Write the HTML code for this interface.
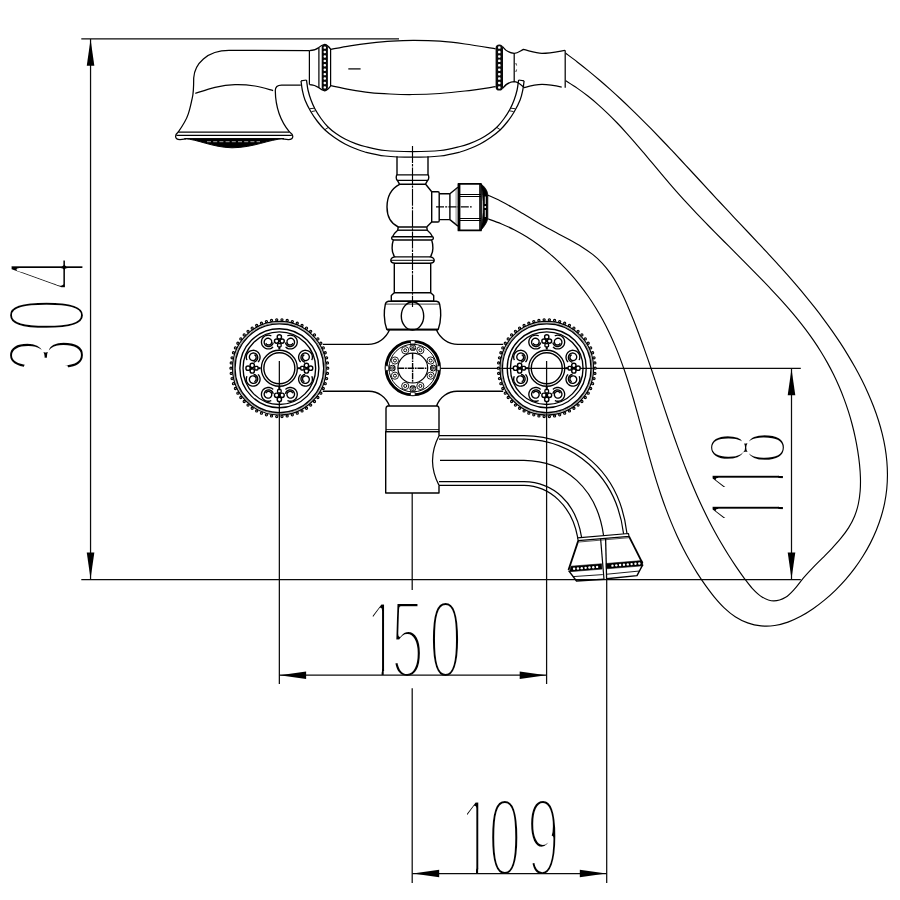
<!DOCTYPE html>
<html lang="en"><head><meta charset="utf-8">
<style>
html,body{margin:0;padding:0;background:#fff;width:900px;height:900px;overflow:hidden}
svg{display:block}
text{font-family:"Liberation Sans",sans-serif}
</style></head><body>
<svg width="900" height="900" viewBox="0 0 900 900">
<rect width="900" height="900" fill="#fff"/>
<g fill="none" stroke="#000" stroke-width="1.4" stroke-linecap="butt" stroke-linejoin="round">
<text transform="translate(365.4,678) scale(0.53,1)" x="0 48.3 120" y="0" font-size="112" fill="#000" stroke="#fff" stroke-width="6.1" stroke-linejoin="round">150</text>
<rect x="369.4" y="671" width="12.2" height="4.4" fill="#fff" stroke="none"/>
<rect x="383.7" y="671" width="12" height="4.4" fill="#fff" stroke="none"/>
<text transform="translate(459.8,876.3) scale(0.53,1)" x="0 53.58 126.51" y="0" font-size="112" fill="#000" stroke="#fff" stroke-width="6.1" stroke-linejoin="round">109</text>
<rect x="463.8" y="869.3" width="12.2" height="4.4" fill="#fff" stroke="none"/>
<rect x="478.1" y="869.3" width="12" height="4.4" fill="#fff" stroke="none"/>
<text transform="translate(84.6,371.5) rotate(-90) scale(0.53,1)" x="0 74.91 153.4" y="0" font-size="112" fill="#000" stroke="#fff" stroke-width="6.1" stroke-linejoin="round">304</text>
<text transform="translate(785.8,525.3) rotate(-90) scale(0.53,1)" x="0 58.49 115.85" y="0" font-size="112" fill="#000" stroke="#fff" stroke-width="6.1" stroke-linejoin="round">118</text>
<rect x="778.8" y="509.1" width="4.4" height="12.2" fill="#fff" stroke="none"/>
<rect x="778.8" y="495" width="4.4" height="12" fill="#fff" stroke="none"/>
<rect x="778.8" y="478.1" width="4.4" height="12.2" fill="#fff" stroke="none"/>
<rect x="778.8" y="464" width="4.4" height="12" fill="#fff" stroke="none"/>
<g stroke-width="1.25" stroke="#0a0a0a">
<line x1="81.3" y1="38.9" x2="399" y2="38.9"/>
<line x1="90.55" y1="39" x2="90.55" y2="579"/>
<path d="M90.55 39.3 L94.35 65.8 L86.75 65.8 Z" fill="#000" stroke="none"/>
<path d="M90.55 579.1 L86.75 552.6 L94.35 552.6 Z" fill="#000" stroke="none"/>
<line x1="81.3" y1="579.5" x2="800.8" y2="579.5"/>
<line x1="279.35" y1="361" x2="279.35" y2="684"/>
<line x1="546.6" y1="361" x2="546.6" y2="684"/>
<line x1="279" y1="675.2" x2="546.7" y2="675.2"/>
<path d="M279.6 675.2 L306.1 671.4 L306.1 679 Z" fill="#000" stroke="none"/>
<path d="M546.2 675.2 L519.7 679 L519.7 671.4 Z" fill="#000" stroke="none"/>
<line x1="412.2" y1="493" x2="412.2" y2="590"/>
<line x1="412.2" y1="688.3" x2="412.2" y2="883"/>
<line x1="606.7" y1="579" x2="606.7" y2="883"/>
<line x1="412.3" y1="873.5" x2="606.7" y2="873.5"/>
<path d="M412.7 873.5 L439.2 869.7 L439.2 877.3 Z" fill="#000" stroke="none"/>
<path d="M606.3 873.5 L579.8 877.3 L579.8 869.7 Z" fill="#000" stroke="none"/>
<line x1="438.5" y1="368.3" x2="800.8" y2="368.3"/>
<line x1="791.5" y1="368.5" x2="791.5" y2="579"/>
<path d="M791.5 368.7 L795.3 395.2 L787.7 395.2 Z" fill="#000" stroke="none"/>
<path d="M791.5 579.1 L787.7 552.6 L795.3 552.6 Z" fill="#000" stroke="none"/>
</g>
<g stroke-width="1.25">
<path d="M309.4 50.6 L229 50.4 C207 50.4 194.5 64 193.7 78 C193.7 88 193.4 94 192.2 98.3 C191 104 190 109 188.3 113.9 C186 121 182.5 126 178.2 132.1"/>
<path d="M300.8 85 L281.5 85 C277 85 275.3 87 275.3 90.5 C275.5 106 279.5 120 289.6 132.1"/>
<path d="M195.3 93.4 C198.58 92.38 208.38 88.77 215 87.3 C221.62 85.83 228.33 84.82 235 84.6 C241.67 84.38 248.65 85 255 86 C261.35 87 270.08 89.83 273.1 90.6"/>
<path d="M178.2 132.1 L289.6 132.1"/>
<path d="M176.4 135.3 L291.8 135.3"/>
<path d="M178.2 132.1 C176.5 133.5 175.6 134.5 175.6 136.3 C175.6 138.6 177 139.6 180 139.6 L186 138.9 M289.6 132.1 C291.6 133.5 292.8 134.5 292.8 136.3 C292.8 138.6 291.4 139.6 288.4 139.6 L282.4 138.9"/>
<path d="M184.5 138.6 C198 139.5 212 147.2 232 147.8 C254 147.6 268 139.6 284 138.6 Z" stroke-width="1" fill="#000"/>
<line x1="207" y1="141.7" x2="260" y2="141.7" stroke-width="0.9" stroke="#bbb" stroke-dasharray="4 2.2"/>
<line x1="309.4" y1="50.6" x2="309.4" y2="84.6"/>
<path d="M309.4 50.6 C313.5 50.5 316 49.6 318.9 47.4 C320.5 46 322 45 324.8 44.4 C327.5 45 329 46.8 330.6 49.2"/>
<path d="M309.4 84.6 C313.5 84.7 316 85.6 318.9 87.8 C320.5 89.2 322 90.2 324.8 90.8 C327.5 90.2 329 88.4 330.6 86"/>
<line x1="318.9" y1="47.4" x2="318.9" y2="87.8"/>
<line x1="330.6" y1="48.9" x2="330.6" y2="86.1"/>
<rect x="321.7" y="44.4" width="6.2" height="46.2" rx="3.1" fill="#0a0a0a" stroke="none"/>
<rect x="323.6" y="46.41" width="2.4" height="2.4" rx="0.9" fill="#fff" stroke="none"/>
<rect x="323.6" y="50.83" width="2.4" height="2.4" rx="0.9" fill="#fff" stroke="none"/>
<rect x="323.6" y="55.25" width="2.4" height="2.4" rx="0.9" fill="#fff" stroke="none"/>
<rect x="323.6" y="59.67" width="2.4" height="2.4" rx="0.9" fill="#fff" stroke="none"/>
<rect x="323.6" y="64.09" width="2.4" height="2.4" rx="0.9" fill="#fff" stroke="none"/>
<rect x="323.6" y="68.51" width="2.4" height="2.4" rx="0.9" fill="#fff" stroke="none"/>
<rect x="323.6" y="72.93" width="2.4" height="2.4" rx="0.9" fill="#fff" stroke="none"/>
<rect x="323.6" y="77.35" width="2.4" height="2.4" rx="0.9" fill="#fff" stroke="none"/>
<rect x="323.6" y="81.77" width="2.4" height="2.4" rx="0.9" fill="#fff" stroke="none"/>
<rect x="323.6" y="86.19" width="2.4" height="2.4" rx="0.9" fill="#fff" stroke="none"/>
<path d="M330.6 49.4 C333.83 48.8 343.43 46.85 350 45.8 C356.57 44.75 363 43.88 370 43.1 C377 42.32 384.67 41.55 392 41.1 C399.33 40.65 406 40.38 414 40.4 C422 40.42 431.5 40.6 440 41.2 C448.5 41.8 455.73 42.72 465 44 C474.27 45.28 490.5 48.08 495.6 48.9"/>
<path d="M330.6 85.6 C333.83 86.27 343.43 88.43 350 89.6 C356.57 90.77 363.33 91.87 370 92.6 C376.67 93.33 383 93.68 390 94 C397 94.32 403.67 94.58 412 94.5 C420.33 94.42 431.17 94.08 440 93.5 C448.83 92.92 455.73 92.13 465 91 C474.27 89.87 490.5 87.42 495.6 86.7"/>
<line x1="348.3" y1="68.9" x2="360.6" y2="68.9"/>
<rect x="495.6" y="44.4" width="7.4" height="46.2" rx="3.7" fill="#0a0a0a" stroke="none"/>
<rect x="498.05" y="46.36" width="2.5" height="2.5" rx="0.9" fill="#fff" stroke="none"/>
<rect x="498.05" y="50.78" width="2.5" height="2.5" rx="0.9" fill="#fff" stroke="none"/>
<rect x="498.05" y="55.2" width="2.5" height="2.5" rx="0.9" fill="#fff" stroke="none"/>
<rect x="498.05" y="59.62" width="2.5" height="2.5" rx="0.9" fill="#fff" stroke="none"/>
<rect x="498.05" y="64.04" width="2.5" height="2.5" rx="0.9" fill="#fff" stroke="none"/>
<rect x="498.05" y="68.46" width="2.5" height="2.5" rx="0.9" fill="#fff" stroke="none"/>
<rect x="498.05" y="72.88" width="2.5" height="2.5" rx="0.9" fill="#fff" stroke="none"/>
<rect x="498.05" y="77.3" width="2.5" height="2.5" rx="0.9" fill="#fff" stroke="none"/>
<rect x="498.05" y="81.72" width="2.5" height="2.5" rx="0.9" fill="#fff" stroke="none"/>
<rect x="498.05" y="86.14" width="2.5" height="2.5" rx="0.9" fill="#fff" stroke="none"/>
<path d="M502.5 46.5 C505 50 508 53 514.2 53.3 C518 53.3 520 51 523.3 49.4 C530 51 536 53.3 542 53.3 C550 53.3 558 51.5 565 50.3"/>
<path d="M502.5 88.5 C505 85 508 82 514.2 81.7 C518 81.7 521 85 524.4 87.6 C530 86 536 84.4 542 84.4 C550 84.4 556 85.8 561.7 87.2"/>
<line x1="514.2" y1="53.3" x2="514.2" y2="81.7"/>
<line x1="565.2" y1="50.3" x2="565.2" y2="87.8"/>
<path d="M515.8 63 L516.6 65.5 M515.8 72 L516.6 69.5" stroke-width="0.8"/>
<path d="M301 80.8 C301.22 82.33 301.63 86.8 302.3 90 C302.97 93.2 303.55 96.33 305 100 C306.45 103.67 308.92 108.42 311 112 C313.08 115.58 315.17 118.5 317.5 121.5 C319.83 124.5 322.17 127.33 325 130 C327.83 132.67 331.17 135.17 334.5 137.5 C337.83 139.83 341.58 142.17 345 144 C348.42 145.83 351.67 147.17 355 148.5 C358.33 149.83 360 150.75 365 152 C370 153.25 377.08 155.13 385 156 C392.92 156.87 403.32 157.2 412.5 157.2 C421.68 157.2 432.17 156.87 440.1 156 C448.03 155.13 455.1 153.25 460.1 152 C465.1 150.75 466.77 149.83 470.1 148.5 C473.43 147.17 476.68 145.83 480.1 144 C483.52 142.17 487.27 139.83 490.6 137.5 C493.93 135.17 497.27 132.67 500.1 130 C502.93 127.33 505.27 124.5 507.6 121.5 C509.93 118.5 512.02 115.58 514.1 112 C516.18 108.42 518.65 103.67 520.1 100 C521.55 96.33 522.13 93.2 522.8 90 C523.47 86.8 523.88 82.33 524.1 80.8"/>
<path d="M306.5 80 C306.75 81.67 307.25 86.67 308 90 C308.75 93.33 309.83 96.83 311 100 C312.17 103.17 313.33 105.92 315 109 C316.67 112.08 318.83 115.5 321 118.5 C323.17 121.5 325.5 124.5 328 127 C330.5 129.5 333.17 131.5 336 133.5 C338.83 135.5 341.83 137.37 345 139 C348.17 140.63 351.67 142.05 355 143.3 C358.33 144.55 360 145.3 365 146.5 C370 147.7 377.08 149.67 385 150.5 C392.92 151.33 403.32 151.5 412.5 151.5 C421.68 151.5 432.17 151.33 440.1 150.5 C448.03 149.67 455.1 147.7 460.1 146.5 C465.1 145.3 466.77 144.55 470.1 143.3 C473.43 142.05 476.93 140.63 480.1 139 C483.27 137.37 486.27 135.5 489.1 133.5 C491.93 131.5 494.6 129.5 497.1 127 C499.6 124.5 501.93 121.5 504.1 118.5 C506.27 115.5 508.43 112.08 510.1 109 C511.77 105.92 512.93 103.17 514.1 100 C515.27 96.83 516.35 93.33 517.1 90 C517.85 86.67 518.35 81.67 518.6 80"/>
<path d="M301 80.8 L306.5 80 M518.6 80 L524.1 80.8"/>
<line x1="310" y1="108.7" x2="314.5" y2="108.2" stroke-width="0.9"/>
<line x1="515.1" y1="108.7" x2="510.6" y2="108.2" stroke-width="0.9"/>
<line x1="311.5" y1="111.6" x2="315.5" y2="110.8" stroke-width="0.9"/>
<line x1="513.6" y1="111.6" x2="509.6" y2="110.8" stroke-width="0.9"/>
<line x1="325" y1="129.6" x2="328.4" y2="127.4" stroke-width="0.9"/>
<line x1="500.1" y1="129.6" x2="496.7" y2="127.4" stroke-width="0.9"/>
</g>
<line x1="397" y1="156.3" x2="397" y2="174.9"/>
<line x1="428" y1="156.3" x2="428" y2="174.9"/>
<path d="M397 174.9 C396 175.5 395.8 179.3 397.4 180.4 L427.6 180.4 C429.2 179.3 429 175.5 428 174.9 Z"/>
<path d="M397.4 180.4 L399.6 184.3 L425.4 184.3 L427.6 180.4"/>
<path d="M399.6 184.3 C391.5 188.5 387 197 387 207 C387 216 391 223.5 398.3 227 L426.7 227"/>
<path d="M425.4 184.3 L426.3 185 L431.7 191.8"/>
<path d="M431.7 222 L426.7 227"/>
<path d="M431.7 191.8 L438 191.8 C438.8 191.8 439.2 192.3 439.2 193 L439.2 220.8 C439.2 221.5 438.8 222 438 222 L431.7 222 Z"/>
<path d="M439.2 193.8 L449.9 193.8 M439.2 219.6 L449.9 219.6 M449.9 193.8 L449.9 219.6"/>
<path d="M449.9 193.8 L457.9 187.3 M449.9 219.6 L457.9 226.1"/>
<line x1="456.1" y1="188.8" x2="456.1" y2="224.6" stroke-width="0.7" stroke="#555"/>
<path d="M458.4 183.8 L481 183.8 L481 230.4 L458.4 230.4 Z" stroke-width="1.7"/>
<line x1="459.6" y1="183.8" x2="459.6" y2="230.4" stroke-width="1.6"/>
<line x1="479.6" y1="184" x2="479.6" y2="230" stroke-width="0.9"/>
<line x1="458.4" y1="194.5" x2="481" y2="194.5" stroke-width="1"/>
<line x1="458.4" y1="196.5" x2="481" y2="196.5" stroke-width="1"/>
<line x1="458.4" y1="218.5" x2="481" y2="218.5" stroke-width="1"/>
<line x1="458.4" y1="220.5" x2="481" y2="220.5" stroke-width="1"/>
<path d="M481 184 C484.5 186.5 487.3 190 487.8 194.5 L487.8 218 C487.3 222.5 484.5 226 481 230.2 C482.6 222 483.2 214 483.2 207 C483.2 200 482.6 192 481 184 Z" stroke-width="0.8" fill="#000"/>
<path d="M485.3 196.5 L485.3 204 M485.3 210 L485.3 217" stroke-width="0.9" stroke="#fff"/>
<circle cx="485.3" cy="207" r="0.9" fill="#fff" stroke="none"/>
<line x1="436" y1="206.9" x2="471.7" y2="206.9" stroke-width="1.1" stroke-dasharray="8 1.2 2 1.2"/>
<line x1="398" y1="230.2" x2="427" y2="230.2"/>
<path d="M398.3 227 L397.7 230.2 C395.5 232 393.5 234.5 392.5 236.7 C391.3 237.3 391.3 239.4 393.3 240 C392.3 243 392.1 246 392.1 248.3 C392.1 251 393 254.5 394.7 256.9 C391.8 257.5 390.8 258.6 390.8 260.3 C390.8 262 392 263 394.3 263.3 L394.3 292.7 L391.3 295.5 L391.3 301.3"/>
<path d="M 426.7 227 L 427.3 230.2 C 429.5 232 431.5 234.5 432.5 236.7 C 433.7 237.3 433.7 239.4 431.7 240 C 432.7 243 432.9 246 432.9 248.3 C 432.9 251 432 254.5 430.3 256.9 C 433.2 257.5 434.2 258.6 434.2 260.3 C 434.2 262 433 263 430.7 263.3 L 430.7 292.7 L 433.7 295.5 L 433.7 301.3"/>
<line x1="392.5" y1="236.7" x2="432.5" y2="236.7"/>
<line x1="393.3" y1="240" x2="431.7" y2="240"/>
<line x1="394.7" y1="256.9" x2="430.3" y2="256.9"/>
<line x1="391" y1="260.3" x2="434" y2="260.3" stroke-width="1"/>
<line x1="394.3" y1="263.3" x2="430.7" y2="263.3"/>
<line x1="394.3" y1="292.8" x2="430.7" y2="292.8" stroke-width="1.6"/>
<line x1="391.3" y1="301.3" x2="433.7" y2="301.3"/>
<line x1="412.5" y1="146" x2="412.5" y2="307" stroke-width="1.15" stroke-dasharray="17 1 2.4 1"/>
<path d="M388.5 301.3 C386.5 301.6 385.6 302.8 385.3 304.3 C384.5 308 384.2 312 384.3 315.5 C384.4 320 385.2 325 386.8 329.5 L438.2 329.5 C439.8 325 440.6 320 440.7 315.5 C440.8 312 440.5 308 439.7 304.3 C439.4 302.8 438.5 301.6 436.5 301.3 Z"/>
<line x1="385.6" y1="304.1" x2="439.4" y2="304.1" stroke-width="0.8"/>
<line x1="387" y1="329.6" x2="438" y2="329.6" stroke-width="1.7"/>
<ellipse cx="412.5" cy="316" rx="11.2" ry="14"/>
<path d="M389.4 330 C386 338 378 344.4 368 344.4 L322.8 344.4"/>
<path d="M436.5 330 C440 338 448 344.4 458 344.4 L503.2 344.4"/>
<path d="M322.8 391.3 L369 391.3 C378 391.3 386 397 389.5 406"/>
<path d="M503.2 391.3 L457 391.3 C448 391.3 440 397 436.5 406"/>
<path d="M387.5 406 L437.5 406 C438.5 406.5 439 407.5 439 408.5 L439 431.6 L386 431.6 L386 408.5 C386 407.5 386.5 406.5 387.5 406 Z"/>
<line x1="386" y1="429.6" x2="439" y2="429.6" stroke-width="0.9"/>
<path d="M439 435.7 L439 431.6 L385.7 431.6 L385.7 493 L439 493 L439 485.4"/>
<path d="M439 435.7 L524 435.7 C575 436.5 619.5 470 627 533.6" stroke-width="1.2"/>
<path d="M439 439.1 L524 439.1 C572 439.8 616.2 474 623.6 533.9" stroke-width="1.2"/>
<path d="M440 460.4 L524 460.4 C565 461 597 488 603.6 535.6" stroke-width="1.2"/>
<path d="M439 481.7 L524 481.7 C553 482.3 576 502 581.6 537.4" stroke-width="1.2"/>
<path d="M439 485.4 L524 485.4 C550 485.8 572 506 577.8 537.8" stroke-width="1.2"/>
<path d="M439 435.7 C430.5 452 430.5 469 439 485.4" stroke-width="1.2"/>
<path d="M577.5 537.8 L628.5 533.5 L629 536.3 L578.3 540.6 Z" stroke-width="1.2"/>
<line x1="579" y1="542" x2="628.9" y2="537.7" stroke-width="0.7"/>
<line x1="578.3" y1="540.6" x2="568.5" y2="570" stroke-width="1.8"/>
<line x1="629" y1="536.3" x2="642.6" y2="563.4" stroke-width="1.8"/>
<path d="M571 566.2 L601.6 563.8 L602 569.1 L569.6 571.7 Z M606.2 563.5 L642 560.6 L642.9 565.8 L606.4 568.8 Z" stroke-width="0.6" fill="#000"/>
<circle cx="574.12" cy="568.79" r="1.2" fill="#fff" stroke="none"/>
<circle cx="577.95" cy="568.48" r="1.2" fill="#fff" stroke="none"/>
<circle cx="581.78" cy="568.17" r="1.2" fill="#fff" stroke="none"/>
<circle cx="585.62" cy="567.85" r="1.2" fill="#fff" stroke="none"/>
<circle cx="589.45" cy="567.54" r="1.2" fill="#fff" stroke="none"/>
<circle cx="593.28" cy="567.22" r="1.2" fill="#fff" stroke="none"/>
<circle cx="597.12" cy="566.91" r="1.2" fill="#fff" stroke="none"/>
<circle cx="612.45" cy="565.65" r="1.2" fill="#fff" stroke="none"/>
<circle cx="616.28" cy="565.34" r="1.2" fill="#fff" stroke="none"/>
<circle cx="620.12" cy="565.03" r="1.2" fill="#fff" stroke="none"/>
<circle cx="623.95" cy="564.71" r="1.2" fill="#fff" stroke="none"/>
<circle cx="627.78" cy="564.4" r="1.2" fill="#fff" stroke="none"/>
<circle cx="631.62" cy="564.08" r="1.2" fill="#fff" stroke="none"/>
<circle cx="635.45" cy="563.77" r="1.2" fill="#fff" stroke="none"/>
<circle cx="639.28" cy="563.46" r="1.2" fill="#fff" stroke="none"/>
<path d="M568.6 570.6 L576.5 581 L604 579.2 M606.7 578.7 L637 575.6 L642.8 564.6"/>
<path d="M573 576.6 L602.8 574.6 M607 574.2 L639.6 571" stroke-width="0.9"/>
<path d="M600.6 538.6 L604 579.2" stroke-width="1.2"/>
<path d="M605.6 538.3 L606.6 579" stroke-width="1.3"/>
<path d="M487.5 218.7 C489.77 219.53 496.68 221.86 501.12 223.7 C505.56 225.55 509.91 227.58 514.15 229.76 C518.39 231.95 522.54 234.31 526.58 236.81 C530.62 239.32 534.56 241.99 538.4 244.78 C542.23 247.58 545.96 250.53 549.59 253.59 C553.21 256.66 556.73 259.86 560.13 263.17 C563.54 266.48 566.84 269.91 570.03 273.44 C573.22 276.97 576.3 280.62 579.26 284.34 C582.22 288.06 585.07 291.89 587.81 295.79 C590.54 299.68 593.16 303.67 595.66 307.71 C598.16 311.75 600.55 315.87 602.81 320.04 C605.08 324.2 607.22 328.43 609.26 332.7 C611.3 336.96 613.21 341.29 615.05 345.64 C616.89 350 618.63 354.4 620.3 358.84 C621.97 363.27 623.54 367.75 625.07 372.24 C626.6 376.74 628.05 381.27 629.46 385.82 C630.88 390.37 632.23 394.94 633.56 399.53 C634.89 404.11 636.17 408.72 637.45 413.33 C638.73 417.94 639.97 422.57 641.22 427.19 C642.47 431.81 643.71 436.44 644.96 441.06 C646.22 445.68 647.47 450.3 648.75 454.91 C650.04 459.52 651.34 464.12 652.69 468.7 C654.04 473.28 655.42 477.85 656.85 482.39 C658.29 486.93 659.76 491.46 661.31 495.95 C662.85 500.45 664.44 504.93 666.11 509.37 C667.78 513.81 669.5 518.23 671.32 522.61 C673.13 526.99 675.01 531.35 676.99 535.66 C678.97 539.97 681.03 544.25 683.19 548.49 C685.35 552.72 687.6 556.92 689.97 561.07 C692.33 565.22 694.8 569.33 697.38 573.39 C699.97 577.44 702.67 581.46 705.5 585.41 C708.33 589.36 711.26 593.35 714.38 597.08 C717.5 600.81 720.73 604.54 724.2 607.81 C727.67 611.08 731.31 614.19 735.21 616.7 C739.12 619.21 743.31 621.35 747.63 622.87 C751.94 624.4 756.57 625.41 761.08 625.85 C765.59 626.29 770.21 626.14 774.7 625.52 C779.18 624.9 783.62 623.67 787.97 622.14 C792.32 620.61 796.61 618.56 800.79 616.33 C804.97 614.09 809.08 611.46 813.07 608.72 C817.05 605.98 820.95 603 824.71 599.89 C828.47 596.79 832.12 593.5 835.62 590.08 C839.13 586.66 842.51 583.08 845.73 579.39 C848.95 575.69 852.04 571.86 854.95 567.92 C857.85 563.99 860.61 559.93 863.18 555.8 C865.75 551.66 868.16 547.42 870.36 543.12 C872.56 538.81 874.58 534.42 876.39 529.99 C878.19 525.56 879.81 521.05 881.19 516.52 C882.56 511.99 883.74 507.41 884.66 502.82 C885.59 498.24 886.28 493.62 886.75 489.01 C887.21 484.39 887.42 479.76 887.44 475.14 C887.46 470.51 887.24 465.88 886.84 461.26 C886.45 456.64 885.83 452.02 885.06 447.42 C884.28 442.81 883.3 438.22 882.18 433.65 C881.06 429.08 879.75 424.52 878.32 419.99 C876.89 415.46 875.29 410.96 873.57 406.49 C871.86 402.02 870 397.58 868.05 393.18 C866.09 388.79 864 384.42 861.84 380.11 C859.67 375.8 857.39 371.53 855.05 367.31 C852.7 363.1 850.27 358.94 847.78 354.83 C845.29 350.73 842.73 346.68 840.11 342.69 C837.49 338.69 834.81 334.75 832.08 330.85 C829.35 326.95 826.55 323.1 823.72 319.29 C820.88 315.47 817.99 311.71 815.06 307.97 C812.14 304.24 809.16 300.54 806.15 296.88 C803.14 293.21 800.09 289.58 797.01 285.97 C793.92 282.36 790.81 278.79 787.67 275.23 C784.53 271.67 781.36 268.13 778.17 264.61 C774.98 261.09 771.77 257.59 768.54 254.1 C765.32 250.6 762.07 247.13 758.82 243.65 C755.57 240.18 752.31 236.72 749.04 233.25 C745.78 229.79 742.51 226.33 739.24 222.86 C735.97 219.4 732.7 215.93 729.44 212.46 C726.18 208.98 722.93 205.5 719.68 202.01 C716.43 198.52 713.2 195.02 709.96 191.51 C706.72 188.01 703.49 184.5 700.26 181 C697.02 177.5 693.79 173.99 690.55 170.49 C687.31 166.99 684.07 163.5 680.82 160.01 C677.57 156.53 674.31 153.05 671.04 149.58 C667.77 146.12 664.49 142.66 661.19 139.23 C657.89 135.79 654.58 132.37 651.25 128.97 C647.91 125.57 644.57 122.19 641.19 118.84 C637.82 115.48 634.43 112.15 631 108.85 C627.58 105.55 624.13 102.27 620.66 99.03 C617.18 95.79 613.67 92.58 610.13 89.4 C606.59 86.23 603.02 83.09 599.4 79.99 C595.79 76.9 592.14 73.84 588.45 70.82 C584.76 67.81 581.04 64.84 577.26 61.92 C573.48 59 567.71 54.74 565.8 53.3" stroke-width="1.15"/>
<path d="M487.5 195 C489.59 195.96 496.02 198.77 500.05 200.77 C504.07 202.78 507.88 204.89 511.67 207.02 C515.46 209.16 519.09 211.37 522.79 213.57 C526.48 215.77 530.09 218.02 533.83 220.23 C537.57 222.44 541.33 224.65 545.23 226.82 C549.14 228.98 553.21 231.08 557.26 233.22 C561.32 235.37 565.5 237.48 569.55 239.72 C573.59 241.95 577.68 244.21 581.53 246.65 C585.38 249.1 589.17 251.63 592.64 254.4 C596.11 257.18 599.36 260.14 602.34 263.31 C605.31 266.49 607.98 269.9 610.49 273.44 C613 276.97 615.25 280.71 617.39 284.52 C619.54 288.33 621.48 292.3 623.37 296.29 C625.26 300.28 627 304.38 628.74 308.47 C630.47 312.56 632.13 316.69 633.77 320.82 C635.41 324.95 637 329.11 638.57 333.27 C640.14 337.43 641.67 341.61 643.18 345.8 C644.69 349.99 646.17 354.19 647.63 358.4 C649.1 362.61 650.54 366.83 651.97 371.05 C653.4 375.27 654.81 379.49 656.22 383.72 C657.64 387.95 659.03 392.18 660.44 396.41 C661.84 400.64 663.24 404.87 664.65 409.09 C666.06 413.31 667.47 417.53 668.9 421.74 C670.33 425.96 671.77 430.16 673.23 434.36 C674.69 438.55 676.16 442.74 677.66 446.91 C679.17 451.09 680.69 455.25 682.25 459.39 C683.81 463.54 685.4 467.67 687.03 471.78 C688.66 475.88 690.33 479.98 692.04 484.05 C693.75 488.12 695.5 492.17 697.3 496.21 C699.1 500.24 700.94 504.25 702.84 508.24 C704.74 512.23 706.69 516.2 708.7 520.15 C710.71 524.1 712.78 528.02 714.91 531.92 C717.04 535.82 719.23 539.7 721.49 543.55 C723.75 547.4 726.07 551.23 728.47 555.04 C730.87 558.84 733.34 562.62 735.88 566.37 C738.43 570.12 741.04 573.88 743.76 577.54 C746.49 581.19 749.19 585.07 752.23 588.3 C755.26 591.53 758.41 594.82 761.99 596.93 C765.57 599.03 769.78 600.87 773.72 600.93 C777.67 600.98 782.07 599.36 785.64 597.26 C789.22 595.17 792.19 591.58 795.16 588.37 C798.13 585.15 800.55 581.37 803.47 577.97 C806.39 574.56 809.53 571.24 812.69 567.93 C815.84 564.62 819.17 561.39 822.39 558.12 C825.61 554.85 828.91 551.62 832 548.3 C835.1 544.98 838.18 541.66 840.95 538.21 C843.73 534.76 846.4 531.27 848.67 527.61 C850.94 523.95 852.96 520.18 854.57 516.24 C856.18 512.31 857.39 508.19 858.32 504 C859.25 499.8 859.8 495.45 860.16 491.06 C860.51 486.67 860.55 482.17 860.44 477.68 C860.33 473.19 859.96 468.63 859.5 464.12 C859.04 459.6 858.4 455.07 857.69 450.61 C856.98 446.14 856.15 441.7 855.22 437.31 C854.29 432.91 853.25 428.56 852.11 424.25 C850.98 419.93 849.73 415.66 848.39 411.43 C847.05 407.21 845.6 403.02 844.05 398.88 C842.5 394.74 840.86 390.65 839.11 386.6 C837.36 382.55 835.52 378.55 833.58 374.6 C831.64 370.65 829.6 366.75 827.46 362.9 C825.33 359.04 823.1 355.24 820.77 351.5 C818.45 347.75 816.03 344.06 813.52 340.41 C811.02 336.77 808.42 333.18 805.75 329.64 C803.08 326.09 800.33 322.6 797.53 319.14 C794.73 315.69 791.85 312.27 788.93 308.9 C786.02 305.52 783.04 302.18 780.03 298.87 C777.03 295.56 773.98 292.28 770.91 289.03 C767.85 285.77 764.74 282.55 761.64 279.34 C758.53 276.14 755.41 272.96 752.29 269.79 C749.16 266.62 746.03 263.47 742.9 260.32 C739.77 257.18 736.63 254.05 733.5 250.91 C730.37 247.78 727.24 244.66 724.12 241.52 C721 238.39 717.88 235.26 714.78 232.12 C711.68 228.98 708.58 225.83 705.51 222.66 C702.43 219.5 699.37 216.32 696.33 213.12 C693.28 209.92 690.26 206.7 687.26 203.45 C684.26 200.2 681.29 196.93 678.34 193.63 C675.39 190.32 672.48 186.97 669.58 183.61 C666.68 180.24 663.82 176.84 660.95 173.43 C658.09 170.03 655.24 166.6 652.39 163.18 C649.53 159.76 646.68 156.34 643.8 152.93 C640.92 149.53 638.05 146.13 635.13 142.77 C632.21 139.41 629.28 136.07 626.29 132.77 C623.31 129.48 620.3 126.22 617.22 123.02 C614.15 119.83 611.04 116.68 607.85 113.6 C604.66 110.53 601.42 107.51 598.09 104.59 C594.76 101.66 591.37 98.81 587.88 96.06 C584.39 93.32 580.82 90.65 577.14 88.11 C573.46 85.56 567.69 82.02 565.8 80.8" stroke-width="1.15"/>
<circle cx="327.75" cy="368.2" r="1.1" stroke-width="1.1" fill="#aaa"/>
<circle cx="327.47" cy="373.43" r="1.1" stroke-width="1.1" fill="#aaa"/>
<circle cx="326.62" cy="378.6" r="1.1" stroke-width="1.1" fill="#aaa"/>
<circle cx="325.22" cy="383.65" r="1.1" stroke-width="1.1" fill="#aaa"/>
<circle cx="323.28" cy="388.52" r="1.1" stroke-width="1.1" fill="#aaa"/>
<circle cx="320.82" cy="393.15" r="1.1" stroke-width="1.1" fill="#aaa"/>
<circle cx="317.88" cy="397.49" r="1.1" stroke-width="1.1" fill="#aaa"/>
<circle cx="314.49" cy="401.48" r="1.1" stroke-width="1.1" fill="#aaa"/>
<circle cx="310.68" cy="405.09" r="1.1" stroke-width="1.1" fill="#aaa"/>
<circle cx="306.51" cy="408.26" r="1.1" stroke-width="1.1" fill="#aaa"/>
<circle cx="302.02" cy="410.96" r="1.1" stroke-width="1.1" fill="#aaa"/>
<circle cx="297.26" cy="413.16" r="1.1" stroke-width="1.1" fill="#aaa"/>
<circle cx="292.3" cy="414.84" r="1.1" stroke-width="1.1" fill="#aaa"/>
<circle cx="287.18" cy="415.96" r="1.1" stroke-width="1.1" fill="#aaa"/>
<circle cx="281.97" cy="416.53" r="1.1" stroke-width="1.1" fill="#aaa"/>
<circle cx="276.73" cy="416.53" r="1.1" stroke-width="1.1" fill="#aaa"/>
<circle cx="271.52" cy="415.96" r="1.1" stroke-width="1.1" fill="#aaa"/>
<circle cx="266.4" cy="414.84" r="1.1" stroke-width="1.1" fill="#aaa"/>
<circle cx="261.44" cy="413.16" r="1.1" stroke-width="1.1" fill="#aaa"/>
<circle cx="256.68" cy="410.96" r="1.1" stroke-width="1.1" fill="#aaa"/>
<circle cx="252.19" cy="408.26" r="1.1" stroke-width="1.1" fill="#aaa"/>
<circle cx="248.02" cy="405.09" r="1.1" stroke-width="1.1" fill="#aaa"/>
<circle cx="244.21" cy="401.48" r="1.1" stroke-width="1.1" fill="#aaa"/>
<circle cx="240.82" cy="397.49" r="1.1" stroke-width="1.1" fill="#aaa"/>
<circle cx="237.88" cy="393.15" r="1.1" stroke-width="1.1" fill="#aaa"/>
<circle cx="235.42" cy="388.52" r="1.1" stroke-width="1.1" fill="#aaa"/>
<circle cx="233.48" cy="383.65" r="1.1" stroke-width="1.1" fill="#aaa"/>
<circle cx="232.08" cy="378.6" r="1.1" stroke-width="1.1" fill="#aaa"/>
<circle cx="231.23" cy="373.43" r="1.1" stroke-width="1.1" fill="#aaa"/>
<circle cx="230.95" cy="368.2" r="1.1" stroke-width="1.1" fill="#aaa"/>
<circle cx="231.23" cy="362.97" r="1.1" stroke-width="1.1" fill="#aaa"/>
<circle cx="232.08" cy="357.8" r="1.1" stroke-width="1.1" fill="#aaa"/>
<circle cx="233.48" cy="352.75" r="1.1" stroke-width="1.1" fill="#aaa"/>
<circle cx="235.42" cy="347.88" r="1.1" stroke-width="1.1" fill="#aaa"/>
<circle cx="237.88" cy="343.25" r="1.1" stroke-width="1.1" fill="#aaa"/>
<circle cx="240.82" cy="338.91" r="1.1" stroke-width="1.1" fill="#aaa"/>
<circle cx="244.21" cy="334.92" r="1.1" stroke-width="1.1" fill="#aaa"/>
<circle cx="248.02" cy="331.31" r="1.1" stroke-width="1.1" fill="#aaa"/>
<circle cx="252.19" cy="328.14" r="1.1" stroke-width="1.1" fill="#aaa"/>
<circle cx="256.68" cy="325.44" r="1.1" stroke-width="1.1" fill="#aaa"/>
<circle cx="261.44" cy="323.24" r="1.1" stroke-width="1.1" fill="#aaa"/>
<circle cx="266.4" cy="321.56" r="1.1" stroke-width="1.1" fill="#aaa"/>
<circle cx="271.52" cy="320.44" r="1.1" stroke-width="1.1" fill="#aaa"/>
<circle cx="276.73" cy="319.87" r="1.1" stroke-width="1.1" fill="#aaa"/>
<circle cx="281.97" cy="319.87" r="1.1" stroke-width="1.1" fill="#aaa"/>
<circle cx="287.18" cy="320.44" r="1.1" stroke-width="1.1" fill="#aaa"/>
<circle cx="292.3" cy="321.56" r="1.1" stroke-width="1.1" fill="#aaa"/>
<circle cx="297.26" cy="323.24" r="1.1" stroke-width="1.1" fill="#aaa"/>
<circle cx="302.02" cy="325.44" r="1.1" stroke-width="1.1" fill="#aaa"/>
<circle cx="306.51" cy="328.14" r="1.1" stroke-width="1.1" fill="#aaa"/>
<circle cx="310.68" cy="331.31" r="1.1" stroke-width="1.1" fill="#aaa"/>
<circle cx="314.49" cy="334.92" r="1.1" stroke-width="1.1" fill="#aaa"/>
<circle cx="317.88" cy="338.91" r="1.1" stroke-width="1.1" fill="#aaa"/>
<circle cx="320.82" cy="343.25" r="1.1" stroke-width="1.1" fill="#aaa"/>
<circle cx="323.28" cy="347.88" r="1.1" stroke-width="1.1" fill="#aaa"/>
<circle cx="325.22" cy="352.75" r="1.1" stroke-width="1.1" fill="#aaa"/>
<circle cx="326.62" cy="357.8" r="1.1" stroke-width="1.1" fill="#aaa"/>
<circle cx="327.47" cy="362.97" r="1.1" stroke-width="1.1" fill="#aaa"/>
<circle cx="279.35" cy="368.2" r="46.8" stroke-width="1.2"/>
<circle cx="279.35" cy="368.2" r="45.5" stroke-width="0.7" stroke="#555"/>
<circle cx="279.35" cy="368.2" r="44.3" stroke-width="1.25"/>
<circle cx="279.35" cy="368.2" r="39.5" stroke-width="1.35"/>
<circle cx="279.35" cy="368.2" r="36.3" stroke-width="1.35"/>
<circle cx="279.35" cy="368.2" r="18" stroke-width="1.35"/>
<circle cx="279.35" cy="368.2" r="15.5" stroke-width="1.4"/>
<path d="M285.5 346.92 C285.69 347.07 286.25 347.59 286.67 347.85 C287.09 348.12 287.55 348.34 288.02 348.51 C288.49 348.68 288.99 348.8 289.48 348.86 C289.98 348.93 290.49 348.94 290.98 348.89 C291.48 348.85 291.98 348.74 292.46 348.59 C292.93 348.44 293.4 348.23 293.83 347.98 C294.26 347.73 294.67 347.43 295.04 347.09 C295.4 346.75 295.74 346.36 296.02 345.95 C296.31 345.55 296.55 345.1 296.74 344.63 C296.93 344.17 297.07 343.68 297.16 343.19 C297.24 342.7 297.27 342.19 297.25 341.69 C297.22 341.19 297.14 340.69 297.01 340.21 C296.88 339.73 296.69 339.25 296.46 338.81 C296.23 338.37 295.95 337.94 295.62 337.56 C295.3 337.18 294.93 336.83 294.53 336.53 C294.14 336.23 293.7 335.96 293.25 335.75 C292.79 335.55 292.31 335.38 291.82 335.28 C291.34 335.17 290.83 335.12 290.33 335.12 C289.83 335.12 289.32 335.18 288.84 335.29 C288.35 335.4 287.65 335.7 287.41 335.78" stroke-width="1.35"/>
<path d="M285.48 342.47 C285.53 342.66 285.64 343.26 285.79 343.63 C285.94 343.99 286.14 344.35 286.37 344.66 C286.61 344.97 286.88 345.26 287.18 345.51 C287.48 345.75 287.82 345.96 288.16 346.13 C288.51 346.29 288.88 346.41 289.25 346.48 C289.62 346.55 290 346.57 290.37 346.55 C290.74 346.53 291.12 346.46 291.47 346.35 C291.82 346.24 292.16 346.08 292.46 345.89 C292.77 345.7 293.06 345.47 293.31 345.21 C293.55 344.96 293.77 344.67 293.95 344.36 C294.12 344.06 294.26 343.72 294.35 343.39 C294.45 343.06 294.5 342.71 294.51 342.37 C294.52 342.03 294.48 341.68 294.41 341.35 C294.33 341.02 294.21 340.7 294.06 340.4 C293.91 340.11 293.72 339.83 293.51 339.58 C293.29 339.34 293.04 339.11 292.78 338.93 C292.51 338.75 292.22 338.6 291.92 338.49 C291.63 338.38 291.31 338.31 291 338.27 C290.69 338.24 290.37 338.25 290.07 338.29 C289.77 338.33 289.46 338.42 289.18 338.53 C288.91 338.65 288.64 338.8 288.4 338.98 C288.16 339.15 287.94 339.36 287.76 339.59 C287.58 339.81 287.42 340.07 287.3 340.33 C287.18 340.59 287.09 340.87 287.04 341.14 C286.98 341.42 286.97 341.71 286.98 341.98 C287 342.26 287.05 342.54 287.14 342.8 C287.22 343.05 287.34 343.31 287.48 343.53 C287.62 343.76 287.79 343.97 287.98 344.15 C288.17 344.33 288.39 344.49 288.61 344.61 C288.83 344.74 289.08 344.84 289.32 344.9 C289.56 344.97 289.82 345.01 290.06 345.01 C290.31 345.01 290.56 344.99 290.79 344.93 C291.03 344.88 291.26 344.79 291.47 344.68 C291.68 344.57 291.88 344.43 292.05 344.28 C292.22 344.12 292.38 343.94 292.5 343.75 C292.63 343.57 292.76 343.25 292.81 343.15" stroke-width="1.35"/>
<path d="M273.2 346.92 C273.01 347.07 272.45 347.59 272.03 347.85 C271.61 348.12 271.15 348.34 270.68 348.51 C270.21 348.68 269.71 348.8 269.22 348.86 C268.72 348.93 268.21 348.94 267.72 348.89 C267.22 348.85 266.72 348.74 266.24 348.59 C265.77 348.44 265.3 348.23 264.87 347.98 C264.44 347.73 264.03 347.43 263.66 347.09 C263.3 346.75 262.96 346.36 262.68 345.95 C262.39 345.55 262.15 345.1 261.96 344.63 C261.77 344.17 261.63 343.68 261.54 343.19 C261.46 342.7 261.43 342.19 261.45 341.69 C261.48 341.19 261.56 340.69 261.69 340.21 C261.82 339.73 262.01 339.25 262.24 338.81 C262.47 338.37 262.75 337.94 263.08 337.56 C263.4 337.18 263.77 336.83 264.17 336.53 C264.56 336.23 265 335.96 265.45 335.75 C265.91 335.55 266.39 335.38 266.88 335.28 C267.36 335.17 267.87 335.12 268.37 335.12 C268.87 335.12 269.38 335.18 269.86 335.29 C270.35 335.4 271.05 335.7 271.29 335.78" stroke-width="1.35"/>
<path d="M273.22 342.47 C273.17 342.66 273.06 343.26 272.91 343.63 C272.76 343.99 272.56 344.35 272.33 344.66 C272.09 344.97 271.82 345.26 271.52 345.51 C271.22 345.75 270.88 345.96 270.54 346.13 C270.19 346.29 269.82 346.41 269.45 346.48 C269.08 346.55 268.7 346.57 268.33 346.55 C267.96 346.53 267.58 346.46 267.23 346.35 C266.88 346.24 266.54 346.08 266.24 345.89 C265.93 345.7 265.64 345.47 265.39 345.21 C265.15 344.96 264.93 344.67 264.75 344.36 C264.58 344.06 264.44 343.72 264.35 343.39 C264.25 343.06 264.2 342.71 264.19 342.37 C264.18 342.03 264.22 341.68 264.29 341.35 C264.37 341.02 264.49 340.7 264.64 340.4 C264.79 340.11 264.98 339.83 265.19 339.58 C265.41 339.34 265.66 339.11 265.92 338.93 C266.19 338.75 266.48 338.6 266.78 338.49 C267.07 338.38 267.39 338.31 267.7 338.27 C268.01 338.24 268.33 338.25 268.63 338.29 C268.93 338.33 269.24 338.42 269.52 338.53 C269.79 338.65 270.06 338.8 270.3 338.98 C270.54 339.15 270.76 339.36 270.94 339.59 C271.12 339.81 271.28 340.07 271.4 340.33 C271.52 340.59 271.61 340.87 271.66 341.14 C271.72 341.42 271.73 341.71 271.72 341.98 C271.7 342.26 271.65 342.54 271.56 342.8 C271.48 343.05 271.36 343.31 271.22 343.53 C271.08 343.76 270.91 343.97 270.72 344.15 C270.53 344.33 270.31 344.49 270.09 344.61 C269.87 344.74 269.62 344.84 269.38 344.9 C269.14 344.97 268.88 345.01 268.64 345.01 C268.39 345.01 268.14 344.99 267.91 344.93 C267.67 344.88 267.44 344.79 267.23 344.68 C267.02 344.57 266.82 344.43 266.65 344.28 C266.48 344.12 266.32 343.94 266.2 343.75 C266.07 343.57 265.94 343.25 265.89 343.15" stroke-width="1.35"/>
<path d="M300.63 374.35 C300.48 374.54 299.96 375.1 299.7 375.52 C299.43 375.94 299.21 376.4 299.04 376.87 C298.87 377.34 298.75 377.84 298.69 378.33 C298.62 378.83 298.61 379.34 298.66 379.83 C298.7 380.33 298.81 380.83 298.96 381.31 C299.11 381.78 299.32 382.25 299.57 382.68 C299.82 383.11 300.12 383.52 300.46 383.89 C300.8 384.25 301.19 384.59 301.6 384.87 C302 385.16 302.45 385.4 302.92 385.59 C303.38 385.78 303.87 385.92 304.36 386.01 C304.85 386.09 305.36 386.12 305.86 386.1 C306.36 386.07 306.86 385.99 307.34 385.86 C307.82 385.73 308.3 385.54 308.74 385.31 C309.18 385.08 309.61 384.8 309.99 384.47 C310.37 384.15 310.72 383.78 311.02 383.38 C311.32 382.99 311.59 382.55 311.8 382.1 C312 381.64 312.17 381.16 312.27 380.67 C312.38 380.19 312.43 379.68 312.43 379.18 C312.43 378.68 312.37 378.17 312.26 377.69 C312.15 377.2 311.85 376.5 311.77 376.26" stroke-width="1.35"/>
<path d="M305.08 374.33 C304.89 374.38 304.29 374.49 303.92 374.64 C303.56 374.79 303.2 374.99 302.89 375.22 C302.58 375.46 302.29 375.73 302.04 376.03 C301.8 376.33 301.59 376.67 301.42 377.01 C301.26 377.36 301.14 377.73 301.07 378.1 C301 378.47 300.98 378.85 301 379.22 C301.02 379.59 301.09 379.97 301.2 380.32 C301.31 380.67 301.47 381.01 301.66 381.31 C301.85 381.62 302.08 381.91 302.34 382.16 C302.59 382.4 302.88 382.62 303.19 382.8 C303.49 382.97 303.83 383.11 304.16 383.2 C304.49 383.3 304.84 383.35 305.18 383.36 C305.52 383.37 305.87 383.33 306.2 383.26 C306.53 383.18 306.85 383.06 307.15 382.91 C307.44 382.76 307.72 382.57 307.97 382.36 C308.21 382.14 308.44 381.89 308.62 381.63 C308.8 381.36 308.95 381.07 309.06 380.77 C309.17 380.48 309.24 380.16 309.28 379.85 C309.31 379.54 309.3 379.22 309.26 378.92 C309.22 378.62 309.13 378.31 309.02 378.03 C308.9 377.76 308.75 377.49 308.57 377.25 C308.4 377.01 308.19 376.79 307.96 376.61 C307.74 376.43 307.48 376.27 307.22 376.15 C306.96 376.03 306.68 375.94 306.41 375.89 C306.13 375.83 305.84 375.82 305.57 375.83 C305.29 375.85 305.01 375.9 304.75 375.99 C304.5 376.07 304.24 376.19 304.02 376.33 C303.79 376.47 303.58 376.64 303.4 376.83 C303.22 377.02 303.06 377.24 302.94 377.46 C302.81 377.68 302.71 377.93 302.65 378.17 C302.58 378.41 302.54 378.67 302.54 378.91 C302.54 379.16 302.56 379.41 302.62 379.64 C302.67 379.88 302.76 380.11 302.87 380.32 C302.98 380.53 303.12 380.73 303.27 380.9 C303.43 381.07 303.61 381.23 303.8 381.35 C303.98 381.48 304.3 381.61 304.4 381.66" stroke-width="1.35"/>
<path d="M300.63 362.05 C300.48 361.86 299.96 361.3 299.7 360.88 C299.43 360.46 299.21 360 299.04 359.53 C298.87 359.06 298.75 358.56 298.69 358.07 C298.62 357.57 298.61 357.06 298.66 356.57 C298.7 356.07 298.81 355.57 298.96 355.09 C299.11 354.62 299.32 354.15 299.57 353.72 C299.82 353.29 300.12 352.88 300.46 352.51 C300.8 352.15 301.19 351.81 301.6 351.53 C302 351.24 302.45 351 302.92 350.81 C303.38 350.62 303.87 350.48 304.36 350.39 C304.85 350.31 305.36 350.28 305.86 350.3 C306.36 350.33 306.86 350.41 307.34 350.54 C307.82 350.67 308.3 350.86 308.74 351.09 C309.18 351.32 309.61 351.6 309.99 351.93 C310.37 352.25 310.72 352.62 311.02 353.02 C311.32 353.41 311.59 353.85 311.8 354.3 C312 354.76 312.17 355.24 312.27 355.73 C312.38 356.21 312.43 356.72 312.43 357.22 C312.43 357.72 312.37 358.23 312.26 358.71 C312.15 359.2 311.85 359.9 311.77 360.14" stroke-width="1.35"/>
<path d="M305.08 362.07 C304.89 362.02 304.29 361.91 303.92 361.76 C303.56 361.61 303.2 361.41 302.89 361.18 C302.58 360.94 302.29 360.67 302.04 360.37 C301.8 360.07 301.59 359.73 301.42 359.39 C301.26 359.04 301.14 358.67 301.07 358.3 C301 357.93 300.98 357.55 301 357.18 C301.02 356.81 301.09 356.43 301.2 356.08 C301.31 355.73 301.47 355.39 301.66 355.09 C301.85 354.78 302.08 354.49 302.34 354.24 C302.59 354 302.88 353.78 303.19 353.6 C303.49 353.43 303.83 353.29 304.16 353.2 C304.49 353.1 304.84 353.05 305.18 353.04 C305.52 353.03 305.87 353.07 306.2 353.14 C306.53 353.22 306.85 353.34 307.15 353.49 C307.44 353.64 307.72 353.83 307.97 354.04 C308.21 354.26 308.44 354.51 308.62 354.77 C308.8 355.04 308.95 355.33 309.06 355.63 C309.17 355.92 309.24 356.24 309.28 356.55 C309.31 356.86 309.3 357.18 309.26 357.48 C309.22 357.78 309.13 358.09 309.02 358.37 C308.9 358.64 308.75 358.91 308.57 359.15 C308.4 359.39 308.19 359.61 307.96 359.79 C307.74 359.97 307.48 360.13 307.22 360.25 C306.96 360.37 306.68 360.46 306.41 360.51 C306.13 360.57 305.84 360.58 305.57 360.57 C305.29 360.55 305.01 360.5 304.75 360.41 C304.5 360.33 304.24 360.21 304.02 360.07 C303.79 359.93 303.58 359.76 303.4 359.57 C303.22 359.38 303.06 359.16 302.94 358.94 C302.81 358.72 302.71 358.47 302.65 358.23 C302.58 357.99 302.54 357.73 302.54 357.49 C302.54 357.24 302.56 356.99 302.62 356.76 C302.67 356.52 302.76 356.29 302.87 356.08 C302.98 355.87 303.12 355.67 303.27 355.5 C303.43 355.33 303.61 355.17 303.8 355.05 C303.98 354.92 304.3 354.79 304.4 354.74" stroke-width="1.35"/>
<path d="M273.2 389.48 C273.01 389.33 272.45 388.81 272.03 388.55 C271.61 388.28 271.15 388.06 270.68 387.89 C270.21 387.72 269.71 387.6 269.22 387.54 C268.72 387.47 268.21 387.46 267.72 387.51 C267.22 387.55 266.72 387.66 266.24 387.81 C265.77 387.96 265.3 388.17 264.87 388.42 C264.44 388.67 264.03 388.97 263.66 389.31 C263.3 389.65 262.96 390.04 262.68 390.45 C262.39 390.85 262.15 391.3 261.96 391.77 C261.77 392.23 261.63 392.72 261.54 393.21 C261.46 393.7 261.43 394.21 261.45 394.71 C261.48 395.21 261.56 395.71 261.69 396.19 C261.82 396.67 262.01 397.15 262.24 397.59 C262.47 398.03 262.75 398.46 263.08 398.84 C263.4 399.22 263.77 399.57 264.17 399.87 C264.56 400.17 265 400.44 265.45 400.65 C265.91 400.85 266.39 401.02 266.88 401.12 C267.36 401.23 267.87 401.28 268.37 401.28 C268.87 401.28 269.38 401.22 269.86 401.11 C270.35 401 271.05 400.7 271.29 400.62" stroke-width="1.35"/>
<path d="M273.22 393.93 C273.17 393.74 273.06 393.14 272.91 392.77 C272.76 392.41 272.56 392.05 272.33 391.74 C272.09 391.43 271.82 391.14 271.52 390.89 C271.22 390.65 270.88 390.44 270.54 390.27 C270.19 390.11 269.82 389.99 269.45 389.92 C269.08 389.85 268.7 389.83 268.33 389.85 C267.96 389.87 267.58 389.94 267.23 390.05 C266.88 390.16 266.54 390.32 266.24 390.51 C265.93 390.7 265.64 390.93 265.39 391.19 C265.15 391.44 264.93 391.73 264.75 392.04 C264.58 392.34 264.44 392.68 264.35 393.01 C264.25 393.34 264.2 393.69 264.19 394.03 C264.18 394.37 264.22 394.72 264.29 395.05 C264.37 395.38 264.49 395.7 264.64 396 C264.79 396.29 264.98 396.57 265.19 396.82 C265.41 397.06 265.66 397.29 265.92 397.47 C266.19 397.65 266.48 397.8 266.78 397.91 C267.07 398.02 267.39 398.09 267.7 398.13 C268.01 398.16 268.33 398.15 268.63 398.11 C268.93 398.07 269.24 397.98 269.52 397.87 C269.79 397.75 270.06 397.6 270.3 397.42 C270.54 397.25 270.76 397.04 270.94 396.81 C271.12 396.59 271.28 396.33 271.4 396.07 C271.52 395.81 271.61 395.53 271.66 395.26 C271.72 394.98 271.73 394.69 271.72 394.42 C271.7 394.14 271.65 393.86 271.56 393.6 C271.48 393.35 271.36 393.09 271.22 392.87 C271.08 392.64 270.91 392.43 270.72 392.25 C270.53 392.07 270.31 391.91 270.09 391.79 C269.87 391.66 269.62 391.56 269.38 391.5 C269.14 391.43 268.88 391.39 268.64 391.39 C268.39 391.39 268.14 391.41 267.91 391.47 C267.67 391.52 267.44 391.61 267.23 391.72 C267.02 391.83 266.82 391.97 266.65 392.12 C266.48 392.28 266.32 392.46 266.2 392.65 C266.07 392.83 265.94 393.15 265.89 393.25" stroke-width="1.35"/>
<path d="M285.5 389.48 C285.69 389.33 286.25 388.81 286.67 388.55 C287.09 388.28 287.55 388.06 288.02 387.89 C288.49 387.72 288.99 387.6 289.48 387.54 C289.98 387.47 290.49 387.46 290.98 387.51 C291.48 387.55 291.98 387.66 292.46 387.81 C292.93 387.96 293.4 388.17 293.83 388.42 C294.26 388.67 294.67 388.97 295.04 389.31 C295.4 389.65 295.74 390.04 296.02 390.45 C296.31 390.85 296.55 391.3 296.74 391.77 C296.93 392.23 297.07 392.72 297.16 393.21 C297.24 393.7 297.27 394.21 297.25 394.71 C297.22 395.21 297.14 395.71 297.01 396.19 C296.88 396.67 296.69 397.15 296.46 397.59 C296.23 398.03 295.95 398.46 295.62 398.84 C295.3 399.22 294.93 399.57 294.53 399.87 C294.14 400.17 293.7 400.44 293.25 400.65 C292.79 400.85 292.31 401.02 291.82 401.12 C291.34 401.23 290.83 401.28 290.33 401.28 C289.83 401.28 289.32 401.22 288.84 401.11 C288.35 401 287.65 400.7 287.41 400.62" stroke-width="1.35"/>
<path d="M285.48 393.93 C285.53 393.74 285.64 393.14 285.79 392.77 C285.94 392.41 286.14 392.05 286.37 391.74 C286.61 391.43 286.88 391.14 287.18 390.89 C287.48 390.65 287.82 390.44 288.16 390.27 C288.51 390.11 288.88 389.99 289.25 389.92 C289.62 389.85 290 389.83 290.37 389.85 C290.74 389.87 291.12 389.94 291.47 390.05 C291.82 390.16 292.16 390.32 292.46 390.51 C292.77 390.7 293.06 390.93 293.31 391.19 C293.55 391.44 293.77 391.73 293.95 392.04 C294.12 392.34 294.26 392.68 294.35 393.01 C294.45 393.34 294.5 393.69 294.51 394.03 C294.52 394.37 294.48 394.72 294.41 395.05 C294.33 395.38 294.21 395.7 294.06 396 C293.91 396.29 293.72 396.57 293.51 396.82 C293.29 397.06 293.04 397.29 292.78 397.47 C292.51 397.65 292.22 397.8 291.92 397.91 C291.63 398.02 291.31 398.09 291 398.13 C290.69 398.16 290.37 398.15 290.07 398.11 C289.77 398.07 289.46 397.98 289.18 397.87 C288.91 397.75 288.64 397.6 288.4 397.42 C288.16 397.25 287.94 397.04 287.76 396.81 C287.58 396.59 287.42 396.33 287.3 396.07 C287.18 395.81 287.09 395.53 287.04 395.26 C286.98 394.98 286.97 394.69 286.98 394.42 C287 394.14 287.05 393.86 287.14 393.6 C287.22 393.35 287.34 393.09 287.48 392.87 C287.62 392.64 287.79 392.43 287.98 392.25 C288.17 392.07 288.39 391.91 288.61 391.79 C288.83 391.66 289.08 391.56 289.32 391.5 C289.56 391.43 289.82 391.39 290.06 391.39 C290.31 391.39 290.56 391.41 290.79 391.47 C291.03 391.52 291.26 391.61 291.47 391.72 C291.68 391.83 291.88 391.97 292.05 392.12 C292.22 392.28 292.38 392.46 292.5 392.65 C292.63 392.83 292.76 393.15 292.81 393.25" stroke-width="1.35"/>
<path d="M258.07 362.05 C258.22 361.86 258.74 361.3 259 360.88 C259.27 360.46 259.49 360 259.66 359.53 C259.83 359.06 259.95 358.56 260.01 358.07 C260.08 357.57 260.09 357.06 260.04 356.57 C260 356.07 259.89 355.57 259.74 355.09 C259.59 354.62 259.38 354.15 259.13 353.72 C258.88 353.29 258.58 352.88 258.24 352.51 C257.9 352.15 257.51 351.81 257.1 351.53 C256.7 351.24 256.25 351 255.78 350.81 C255.32 350.62 254.83 350.48 254.34 350.39 C253.85 350.31 253.34 350.28 252.84 350.3 C252.34 350.33 251.84 350.41 251.36 350.54 C250.88 350.67 250.4 350.86 249.96 351.09 C249.52 351.32 249.09 351.6 248.71 351.93 C248.33 352.25 247.98 352.62 247.68 353.02 C247.38 353.41 247.11 353.85 246.9 354.3 C246.7 354.76 246.53 355.24 246.43 355.73 C246.32 356.21 246.27 356.72 246.27 357.22 C246.27 357.72 246.33 358.23 246.44 358.71 C246.55 359.2 246.85 359.9 246.93 360.14" stroke-width="1.35"/>
<path d="M253.62 362.07 C253.81 362.02 254.41 361.91 254.78 361.76 C255.14 361.61 255.5 361.41 255.81 361.18 C256.12 360.94 256.41 360.67 256.66 360.37 C256.9 360.07 257.11 359.73 257.28 359.39 C257.44 359.04 257.56 358.67 257.63 358.3 C257.7 357.93 257.72 357.55 257.7 357.18 C257.68 356.81 257.61 356.43 257.5 356.08 C257.39 355.73 257.23 355.39 257.04 355.09 C256.85 354.78 256.62 354.49 256.36 354.24 C256.11 354 255.82 353.78 255.51 353.6 C255.21 353.43 254.87 353.29 254.54 353.2 C254.21 353.1 253.86 353.05 253.52 353.04 C253.18 353.03 252.83 353.07 252.5 353.14 C252.17 353.22 251.85 353.34 251.55 353.49 C251.26 353.64 250.98 353.83 250.73 354.04 C250.49 354.26 250.26 354.51 250.08 354.77 C249.9 355.04 249.75 355.33 249.64 355.63 C249.53 355.92 249.46 356.24 249.42 356.55 C249.39 356.86 249.4 357.18 249.44 357.48 C249.48 357.78 249.57 358.09 249.68 358.37 C249.8 358.64 249.95 358.91 250.13 359.15 C250.3 359.39 250.51 359.61 250.74 359.79 C250.96 359.97 251.22 360.13 251.48 360.25 C251.74 360.37 252.02 360.46 252.29 360.51 C252.57 360.57 252.86 360.58 253.13 360.57 C253.41 360.55 253.69 360.5 253.95 360.41 C254.2 360.33 254.46 360.21 254.68 360.07 C254.91 359.93 255.12 359.76 255.3 359.57 C255.48 359.38 255.64 359.16 255.76 358.94 C255.89 358.72 255.99 358.47 256.05 358.23 C256.12 357.99 256.16 357.73 256.16 357.49 C256.16 357.24 256.14 356.99 256.08 356.76 C256.03 356.52 255.94 356.29 255.83 356.08 C255.72 355.87 255.58 355.67 255.43 355.5 C255.27 355.33 255.09 355.17 254.9 355.05 C254.72 354.92 254.4 354.79 254.3 354.74" stroke-width="1.35"/>
<path d="M258.07 374.35 C258.22 374.54 258.74 375.1 259 375.52 C259.27 375.94 259.49 376.4 259.66 376.87 C259.83 377.34 259.95 377.84 260.01 378.33 C260.08 378.83 260.09 379.34 260.04 379.83 C260 380.33 259.89 380.83 259.74 381.31 C259.59 381.78 259.38 382.25 259.13 382.68 C258.88 383.11 258.58 383.52 258.24 383.89 C257.9 384.25 257.51 384.59 257.1 384.87 C256.7 385.16 256.25 385.4 255.78 385.59 C255.32 385.78 254.83 385.92 254.34 386.01 C253.85 386.09 253.34 386.12 252.84 386.1 C252.34 386.07 251.84 385.99 251.36 385.86 C250.88 385.73 250.4 385.54 249.96 385.31 C249.52 385.08 249.09 384.8 248.71 384.47 C248.33 384.15 247.98 383.78 247.68 383.38 C247.38 382.99 247.11 382.55 246.9 382.1 C246.7 381.64 246.53 381.16 246.43 380.67 C246.32 380.19 246.27 379.68 246.27 379.18 C246.27 378.68 246.33 378.17 246.44 377.69 C246.55 377.2 246.85 376.5 246.93 376.26" stroke-width="1.35"/>
<path d="M253.62 374.33 C253.81 374.38 254.41 374.49 254.78 374.64 C255.14 374.79 255.5 374.99 255.81 375.22 C256.12 375.46 256.41 375.73 256.66 376.03 C256.9 376.33 257.11 376.67 257.28 377.01 C257.44 377.36 257.56 377.73 257.63 378.1 C257.7 378.47 257.72 378.85 257.7 379.22 C257.68 379.59 257.61 379.97 257.5 380.32 C257.39 380.67 257.23 381.01 257.04 381.31 C256.85 381.62 256.62 381.91 256.36 382.16 C256.11 382.4 255.82 382.62 255.51 382.8 C255.21 382.97 254.87 383.11 254.54 383.2 C254.21 383.3 253.86 383.35 253.52 383.36 C253.18 383.37 252.83 383.33 252.5 383.26 C252.17 383.18 251.85 383.06 251.55 382.91 C251.26 382.76 250.98 382.57 250.73 382.36 C250.49 382.14 250.26 381.89 250.08 381.63 C249.9 381.36 249.75 381.07 249.64 380.77 C249.53 380.48 249.46 380.16 249.42 379.85 C249.39 379.54 249.4 379.22 249.44 378.92 C249.48 378.62 249.57 378.31 249.68 378.03 C249.8 377.76 249.95 377.49 250.13 377.25 C250.3 377.01 250.51 376.79 250.74 376.61 C250.96 376.43 251.22 376.27 251.48 376.15 C251.74 376.03 252.02 375.94 252.29 375.89 C252.57 375.83 252.86 375.82 253.13 375.83 C253.41 375.85 253.69 375.9 253.95 375.99 C254.2 376.07 254.46 376.19 254.68 376.33 C254.91 376.47 255.12 376.64 255.3 376.83 C255.48 377.02 255.64 377.24 255.76 377.46 C255.89 377.68 255.99 377.93 256.05 378.17 C256.12 378.41 256.16 378.67 256.16 378.91 C256.16 379.16 256.14 379.41 256.08 379.64 C256.03 379.88 255.94 380.11 255.83 380.32 C255.72 380.53 255.58 380.73 255.43 380.9 C255.27 381.07 255.09 381.23 254.9 381.35 C254.72 381.48 254.4 381.61 254.3 381.66" stroke-width="1.35"/>
<circle cx="279.35" cy="336.9" r="2.15" stroke-width="1.4" fill="#fff"/>
<circle cx="282.1" cy="341.1" r="2.15" stroke-width="1.4" fill="#fff"/>
<circle cx="276.6" cy="341.1" r="2.15" stroke-width="1.4" fill="#fff"/>
<rect x="277.75" y="343.4" width="3.2" height="3.6" rx="0.8" fill="#fff" stroke-width="1.3" transform="rotate(90 279.35 345.2)"/>
<circle cx="279.35" cy="340.7" r="0.7" stroke-width="1.2" fill="#000"/>
<line x1="279.35" y1="346.9" x2="279.35" y2="349.5" stroke-width="2"/>
<circle cx="310.65" cy="368.2" r="2.15" stroke-width="1.4" fill="#fff"/>
<circle cx="306.45" cy="370.95" r="2.15" stroke-width="1.4" fill="#fff"/>
<circle cx="306.45" cy="365.45" r="2.15" stroke-width="1.4" fill="#fff"/>
<rect x="300.75" y="366.4" width="3.2" height="3.6" rx="0.8" fill="#fff" stroke-width="1.3" transform="rotate(180 302.35 368.2)"/>
<circle cx="306.85" cy="368.2" r="0.7" stroke-width="1.2" fill="#000"/>
<line x1="300.65" y1="368.2" x2="298.05" y2="368.2" stroke-width="2"/>
<circle cx="279.35" cy="399.5" r="2.15" stroke-width="1.4" fill="#fff"/>
<circle cx="276.6" cy="395.3" r="2.15" stroke-width="1.4" fill="#fff"/>
<circle cx="282.1" cy="395.3" r="2.15" stroke-width="1.4" fill="#fff"/>
<rect x="277.75" y="389.4" width="3.2" height="3.6" rx="0.8" fill="#fff" stroke-width="1.3" transform="rotate(270 279.35 391.2)"/>
<circle cx="279.35" cy="395.7" r="0.7" stroke-width="1.2" fill="#000"/>
<line x1="279.35" y1="389.5" x2="279.35" y2="386.9" stroke-width="2"/>
<circle cx="248.05" cy="368.2" r="2.15" stroke-width="1.4" fill="#fff"/>
<circle cx="252.25" cy="365.45" r="2.15" stroke-width="1.4" fill="#fff"/>
<circle cx="252.25" cy="370.95" r="2.15" stroke-width="1.4" fill="#fff"/>
<rect x="254.75" y="366.4" width="3.2" height="3.6" rx="0.8" fill="#fff" stroke-width="1.3" transform="rotate(360 256.35 368.2)"/>
<circle cx="251.85" cy="368.2" r="0.7" stroke-width="1.2" fill="#000"/>
<line x1="258.05" y1="368.2" x2="260.65" y2="368.2" stroke-width="2"/>
<circle cx="595.15" cy="368.2" r="1.1" stroke-width="1.1" fill="#aaa"/>
<circle cx="594.87" cy="373.43" r="1.1" stroke-width="1.1" fill="#aaa"/>
<circle cx="594.02" cy="378.6" r="1.1" stroke-width="1.1" fill="#aaa"/>
<circle cx="592.62" cy="383.65" r="1.1" stroke-width="1.1" fill="#aaa"/>
<circle cx="590.68" cy="388.52" r="1.1" stroke-width="1.1" fill="#aaa"/>
<circle cx="588.22" cy="393.15" r="1.1" stroke-width="1.1" fill="#aaa"/>
<circle cx="585.28" cy="397.49" r="1.1" stroke-width="1.1" fill="#aaa"/>
<circle cx="581.89" cy="401.48" r="1.1" stroke-width="1.1" fill="#aaa"/>
<circle cx="578.08" cy="405.09" r="1.1" stroke-width="1.1" fill="#aaa"/>
<circle cx="573.91" cy="408.26" r="1.1" stroke-width="1.1" fill="#aaa"/>
<circle cx="569.42" cy="410.96" r="1.1" stroke-width="1.1" fill="#aaa"/>
<circle cx="564.66" cy="413.16" r="1.1" stroke-width="1.1" fill="#aaa"/>
<circle cx="559.7" cy="414.84" r="1.1" stroke-width="1.1" fill="#aaa"/>
<circle cx="554.58" cy="415.96" r="1.1" stroke-width="1.1" fill="#aaa"/>
<circle cx="549.37" cy="416.53" r="1.1" stroke-width="1.1" fill="#aaa"/>
<circle cx="544.13" cy="416.53" r="1.1" stroke-width="1.1" fill="#aaa"/>
<circle cx="538.92" cy="415.96" r="1.1" stroke-width="1.1" fill="#aaa"/>
<circle cx="533.8" cy="414.84" r="1.1" stroke-width="1.1" fill="#aaa"/>
<circle cx="528.84" cy="413.16" r="1.1" stroke-width="1.1" fill="#aaa"/>
<circle cx="524.08" cy="410.96" r="1.1" stroke-width="1.1" fill="#aaa"/>
<circle cx="519.59" cy="408.26" r="1.1" stroke-width="1.1" fill="#aaa"/>
<circle cx="515.42" cy="405.09" r="1.1" stroke-width="1.1" fill="#aaa"/>
<circle cx="511.61" cy="401.48" r="1.1" stroke-width="1.1" fill="#aaa"/>
<circle cx="508.22" cy="397.49" r="1.1" stroke-width="1.1" fill="#aaa"/>
<circle cx="505.28" cy="393.15" r="1.1" stroke-width="1.1" fill="#aaa"/>
<circle cx="502.82" cy="388.52" r="1.1" stroke-width="1.1" fill="#aaa"/>
<circle cx="500.88" cy="383.65" r="1.1" stroke-width="1.1" fill="#aaa"/>
<circle cx="499.48" cy="378.6" r="1.1" stroke-width="1.1" fill="#aaa"/>
<circle cx="498.63" cy="373.43" r="1.1" stroke-width="1.1" fill="#aaa"/>
<circle cx="498.35" cy="368.2" r="1.1" stroke-width="1.1" fill="#aaa"/>
<circle cx="498.63" cy="362.97" r="1.1" stroke-width="1.1" fill="#aaa"/>
<circle cx="499.48" cy="357.8" r="1.1" stroke-width="1.1" fill="#aaa"/>
<circle cx="500.88" cy="352.75" r="1.1" stroke-width="1.1" fill="#aaa"/>
<circle cx="502.82" cy="347.88" r="1.1" stroke-width="1.1" fill="#aaa"/>
<circle cx="505.28" cy="343.25" r="1.1" stroke-width="1.1" fill="#aaa"/>
<circle cx="508.22" cy="338.91" r="1.1" stroke-width="1.1" fill="#aaa"/>
<circle cx="511.61" cy="334.92" r="1.1" stroke-width="1.1" fill="#aaa"/>
<circle cx="515.42" cy="331.31" r="1.1" stroke-width="1.1" fill="#aaa"/>
<circle cx="519.59" cy="328.14" r="1.1" stroke-width="1.1" fill="#aaa"/>
<circle cx="524.08" cy="325.44" r="1.1" stroke-width="1.1" fill="#aaa"/>
<circle cx="528.84" cy="323.24" r="1.1" stroke-width="1.1" fill="#aaa"/>
<circle cx="533.8" cy="321.56" r="1.1" stroke-width="1.1" fill="#aaa"/>
<circle cx="538.92" cy="320.44" r="1.1" stroke-width="1.1" fill="#aaa"/>
<circle cx="544.13" cy="319.87" r="1.1" stroke-width="1.1" fill="#aaa"/>
<circle cx="549.37" cy="319.87" r="1.1" stroke-width="1.1" fill="#aaa"/>
<circle cx="554.58" cy="320.44" r="1.1" stroke-width="1.1" fill="#aaa"/>
<circle cx="559.7" cy="321.56" r="1.1" stroke-width="1.1" fill="#aaa"/>
<circle cx="564.66" cy="323.24" r="1.1" stroke-width="1.1" fill="#aaa"/>
<circle cx="569.42" cy="325.44" r="1.1" stroke-width="1.1" fill="#aaa"/>
<circle cx="573.91" cy="328.14" r="1.1" stroke-width="1.1" fill="#aaa"/>
<circle cx="578.08" cy="331.31" r="1.1" stroke-width="1.1" fill="#aaa"/>
<circle cx="581.89" cy="334.92" r="1.1" stroke-width="1.1" fill="#aaa"/>
<circle cx="585.28" cy="338.91" r="1.1" stroke-width="1.1" fill="#aaa"/>
<circle cx="588.22" cy="343.25" r="1.1" stroke-width="1.1" fill="#aaa"/>
<circle cx="590.68" cy="347.88" r="1.1" stroke-width="1.1" fill="#aaa"/>
<circle cx="592.62" cy="352.75" r="1.1" stroke-width="1.1" fill="#aaa"/>
<circle cx="594.02" cy="357.8" r="1.1" stroke-width="1.1" fill="#aaa"/>
<circle cx="594.87" cy="362.97" r="1.1" stroke-width="1.1" fill="#aaa"/>
<circle cx="546.75" cy="368.2" r="46.8" stroke-width="1.2"/>
<circle cx="546.75" cy="368.2" r="45.5" stroke-width="0.7" stroke="#555"/>
<circle cx="546.75" cy="368.2" r="44.3" stroke-width="1.25"/>
<circle cx="546.75" cy="368.2" r="39.5" stroke-width="1.35"/>
<circle cx="546.75" cy="368.2" r="36.3" stroke-width="1.35"/>
<circle cx="546.75" cy="368.2" r="18" stroke-width="1.35"/>
<circle cx="546.75" cy="368.2" r="15.5" stroke-width="1.4"/>
<path d="M552.9 346.92 C553.09 347.07 553.65 347.59 554.07 347.85 C554.49 348.12 554.95 348.34 555.42 348.51 C555.89 348.68 556.39 348.8 556.88 348.86 C557.38 348.93 557.89 348.94 558.38 348.89 C558.88 348.85 559.38 348.74 559.86 348.59 C560.33 348.44 560.8 348.23 561.23 347.98 C561.66 347.73 562.07 347.43 562.44 347.09 C562.8 346.75 563.14 346.36 563.42 345.95 C563.71 345.55 563.95 345.1 564.14 344.63 C564.33 344.17 564.47 343.68 564.56 343.19 C564.64 342.7 564.67 342.19 564.65 341.69 C564.62 341.19 564.54 340.69 564.41 340.21 C564.28 339.73 564.09 339.25 563.86 338.81 C563.63 338.37 563.35 337.94 563.02 337.56 C562.7 337.18 562.33 336.83 561.93 336.53 C561.54 336.23 561.1 335.96 560.65 335.75 C560.19 335.55 559.71 335.38 559.22 335.28 C558.74 335.17 558.23 335.12 557.73 335.12 C557.23 335.12 556.72 335.18 556.24 335.29 C555.75 335.4 555.05 335.7 554.81 335.78" stroke-width="1.35"/>
<path d="M552.88 342.47 C552.93 342.66 553.04 343.26 553.19 343.63 C553.34 343.99 553.54 344.35 553.77 344.66 C554.01 344.97 554.28 345.26 554.58 345.51 C554.88 345.75 555.22 345.96 555.56 346.13 C555.91 346.29 556.28 346.41 556.65 346.48 C557.02 346.55 557.4 346.57 557.77 346.55 C558.14 346.53 558.52 346.46 558.87 346.35 C559.22 346.24 559.56 346.08 559.86 345.89 C560.17 345.7 560.46 345.47 560.71 345.21 C560.95 344.96 561.17 344.67 561.35 344.36 C561.52 344.06 561.66 343.72 561.75 343.39 C561.85 343.06 561.9 342.71 561.91 342.37 C561.92 342.03 561.88 341.68 561.81 341.35 C561.73 341.02 561.61 340.7 561.46 340.4 C561.31 340.11 561.12 339.83 560.91 339.58 C560.69 339.34 560.44 339.11 560.18 338.93 C559.91 338.75 559.62 338.6 559.32 338.49 C559.03 338.38 558.71 338.31 558.4 338.27 C558.09 338.24 557.77 338.25 557.47 338.29 C557.17 338.33 556.86 338.42 556.58 338.53 C556.31 338.65 556.04 338.8 555.8 338.98 C555.56 339.15 555.34 339.36 555.16 339.59 C554.98 339.81 554.82 340.07 554.7 340.33 C554.58 340.59 554.49 340.87 554.44 341.14 C554.38 341.42 554.37 341.71 554.38 341.98 C554.4 342.26 554.45 342.54 554.54 342.8 C554.62 343.05 554.74 343.31 554.88 343.53 C555.02 343.76 555.19 343.97 555.38 344.15 C555.57 344.33 555.79 344.49 556.01 344.61 C556.23 344.74 556.48 344.84 556.72 344.9 C556.96 344.97 557.22 345.01 557.46 345.01 C557.71 345.01 557.96 344.99 558.19 344.93 C558.43 344.88 558.66 344.79 558.87 344.68 C559.08 344.57 559.28 344.43 559.45 344.28 C559.62 344.12 559.78 343.94 559.9 343.75 C560.03 343.57 560.16 343.25 560.21 343.15" stroke-width="1.35"/>
<path d="M540.6 346.92 C540.41 347.07 539.85 347.59 539.43 347.85 C539.01 348.12 538.55 348.34 538.08 348.51 C537.61 348.68 537.11 348.8 536.62 348.86 C536.12 348.93 535.61 348.94 535.12 348.89 C534.62 348.85 534.12 348.74 533.64 348.59 C533.17 348.44 532.7 348.23 532.27 347.98 C531.84 347.73 531.43 347.43 531.06 347.09 C530.7 346.75 530.36 346.36 530.08 345.95 C529.79 345.55 529.55 345.1 529.36 344.63 C529.17 344.17 529.03 343.68 528.94 343.19 C528.86 342.7 528.83 342.19 528.85 341.69 C528.88 341.19 528.96 340.69 529.09 340.21 C529.22 339.73 529.41 339.25 529.64 338.81 C529.87 338.37 530.15 337.94 530.48 337.56 C530.8 337.18 531.17 336.83 531.57 336.53 C531.96 336.23 532.4 335.96 532.85 335.75 C533.31 335.55 533.79 335.38 534.28 335.28 C534.76 335.17 535.27 335.12 535.77 335.12 C536.27 335.12 536.78 335.18 537.26 335.29 C537.75 335.4 538.45 335.7 538.69 335.78" stroke-width="1.35"/>
<path d="M540.62 342.47 C540.57 342.66 540.46 343.26 540.31 343.63 C540.16 343.99 539.96 344.35 539.73 344.66 C539.49 344.97 539.22 345.26 538.92 345.51 C538.62 345.75 538.28 345.96 537.94 346.13 C537.59 346.29 537.22 346.41 536.85 346.48 C536.48 346.55 536.1 346.57 535.73 346.55 C535.36 346.53 534.98 346.46 534.63 346.35 C534.28 346.24 533.94 346.08 533.64 345.89 C533.33 345.7 533.04 345.47 532.79 345.21 C532.55 344.96 532.33 344.67 532.15 344.36 C531.98 344.06 531.84 343.72 531.75 343.39 C531.65 343.06 531.6 342.71 531.59 342.37 C531.58 342.03 531.62 341.68 531.69 341.35 C531.77 341.02 531.89 340.7 532.04 340.4 C532.19 340.11 532.38 339.83 532.59 339.58 C532.81 339.34 533.06 339.11 533.32 338.93 C533.59 338.75 533.88 338.6 534.18 338.49 C534.47 338.38 534.79 338.31 535.1 338.27 C535.41 338.24 535.73 338.25 536.03 338.29 C536.33 338.33 536.64 338.42 536.92 338.53 C537.19 338.65 537.46 338.8 537.7 338.98 C537.94 339.15 538.16 339.36 538.34 339.59 C538.52 339.81 538.68 340.07 538.8 340.33 C538.92 340.59 539.01 340.87 539.06 341.14 C539.12 341.42 539.13 341.71 539.12 341.98 C539.1 342.26 539.05 342.54 538.96 342.8 C538.88 343.05 538.76 343.31 538.62 343.53 C538.48 343.76 538.31 343.97 538.12 344.15 C537.93 344.33 537.71 344.49 537.49 344.61 C537.27 344.74 537.02 344.84 536.78 344.9 C536.54 344.97 536.28 345.01 536.04 345.01 C535.79 345.01 535.54 344.99 535.31 344.93 C535.07 344.88 534.84 344.79 534.63 344.68 C534.42 344.57 534.22 344.43 534.05 344.28 C533.88 344.12 533.72 343.94 533.6 343.75 C533.47 343.57 533.34 343.25 533.29 343.15" stroke-width="1.35"/>
<path d="M568.03 374.35 C567.88 374.54 567.36 375.1 567.1 375.52 C566.83 375.94 566.61 376.4 566.44 376.87 C566.27 377.34 566.15 377.84 566.09 378.33 C566.02 378.83 566.01 379.34 566.06 379.83 C566.1 380.33 566.21 380.83 566.36 381.31 C566.51 381.78 566.72 382.25 566.97 382.68 C567.22 383.11 567.52 383.52 567.86 383.89 C568.2 384.25 568.59 384.59 569 384.87 C569.4 385.16 569.85 385.4 570.32 385.59 C570.78 385.78 571.27 385.92 571.76 386.01 C572.25 386.09 572.76 386.12 573.26 386.1 C573.76 386.07 574.26 385.99 574.74 385.86 C575.22 385.73 575.7 385.54 576.14 385.31 C576.58 385.08 577.01 384.8 577.39 384.47 C577.77 384.15 578.12 383.78 578.42 383.38 C578.72 382.99 578.99 382.55 579.2 382.1 C579.4 381.64 579.57 381.16 579.67 380.67 C579.78 380.19 579.83 379.68 579.83 379.18 C579.83 378.68 579.77 378.17 579.66 377.69 C579.55 377.2 579.25 376.5 579.17 376.26" stroke-width="1.35"/>
<path d="M572.48 374.33 C572.29 374.38 571.69 374.49 571.32 374.64 C570.96 374.79 570.6 374.99 570.29 375.22 C569.98 375.46 569.69 375.73 569.44 376.03 C569.2 376.33 568.99 376.67 568.82 377.01 C568.66 377.36 568.54 377.73 568.47 378.1 C568.4 378.47 568.38 378.85 568.4 379.22 C568.42 379.59 568.49 379.97 568.6 380.32 C568.71 380.67 568.87 381.01 569.06 381.31 C569.25 381.62 569.48 381.91 569.74 382.16 C569.99 382.4 570.28 382.62 570.59 382.8 C570.89 382.97 571.23 383.11 571.56 383.2 C571.89 383.3 572.24 383.35 572.58 383.36 C572.92 383.37 573.27 383.33 573.6 383.26 C573.93 383.18 574.25 383.06 574.55 382.91 C574.84 382.76 575.12 382.57 575.37 382.36 C575.61 382.14 575.84 381.89 576.02 381.63 C576.2 381.36 576.35 381.07 576.46 380.77 C576.57 380.48 576.64 380.16 576.68 379.85 C576.71 379.54 576.7 379.22 576.66 378.92 C576.62 378.62 576.53 378.31 576.42 378.03 C576.3 377.76 576.15 377.49 575.97 377.25 C575.8 377.01 575.59 376.79 575.36 376.61 C575.14 376.43 574.88 376.27 574.62 376.15 C574.36 376.03 574.08 375.94 573.81 375.89 C573.53 375.83 573.24 375.82 572.97 375.83 C572.69 375.85 572.41 375.9 572.15 375.99 C571.9 376.07 571.64 376.19 571.42 376.33 C571.19 376.47 570.98 376.64 570.8 376.83 C570.62 377.02 570.46 377.24 570.34 377.46 C570.21 377.68 570.11 377.93 570.05 378.17 C569.98 378.41 569.94 378.67 569.94 378.91 C569.94 379.16 569.96 379.41 570.02 379.64 C570.07 379.88 570.16 380.11 570.27 380.32 C570.38 380.53 570.52 380.73 570.67 380.9 C570.83 381.07 571.01 381.23 571.2 381.35 C571.38 381.48 571.7 381.61 571.8 381.66" stroke-width="1.35"/>
<path d="M568.03 362.05 C567.88 361.86 567.36 361.3 567.1 360.88 C566.83 360.46 566.61 360 566.44 359.53 C566.27 359.06 566.15 358.56 566.09 358.07 C566.02 357.57 566.01 357.06 566.06 356.57 C566.1 356.07 566.21 355.57 566.36 355.09 C566.51 354.62 566.72 354.15 566.97 353.72 C567.22 353.29 567.52 352.88 567.86 352.51 C568.2 352.15 568.59 351.81 569 351.53 C569.4 351.24 569.85 351 570.32 350.81 C570.78 350.62 571.27 350.48 571.76 350.39 C572.25 350.31 572.76 350.28 573.26 350.3 C573.76 350.33 574.26 350.41 574.74 350.54 C575.22 350.67 575.7 350.86 576.14 351.09 C576.58 351.32 577.01 351.6 577.39 351.93 C577.77 352.25 578.12 352.62 578.42 353.02 C578.72 353.41 578.99 353.85 579.2 354.3 C579.4 354.76 579.57 355.24 579.67 355.73 C579.78 356.21 579.83 356.72 579.83 357.22 C579.83 357.72 579.77 358.23 579.66 358.71 C579.55 359.2 579.25 359.9 579.17 360.14" stroke-width="1.35"/>
<path d="M572.48 362.07 C572.29 362.02 571.69 361.91 571.32 361.76 C570.96 361.61 570.6 361.41 570.29 361.18 C569.98 360.94 569.69 360.67 569.44 360.37 C569.2 360.07 568.99 359.73 568.82 359.39 C568.66 359.04 568.54 358.67 568.47 358.3 C568.4 357.93 568.38 357.55 568.4 357.18 C568.42 356.81 568.49 356.43 568.6 356.08 C568.71 355.73 568.87 355.39 569.06 355.09 C569.25 354.78 569.48 354.49 569.74 354.24 C569.99 354 570.28 353.78 570.59 353.6 C570.89 353.43 571.23 353.29 571.56 353.2 C571.89 353.1 572.24 353.05 572.58 353.04 C572.92 353.03 573.27 353.07 573.6 353.14 C573.93 353.22 574.25 353.34 574.55 353.49 C574.84 353.64 575.12 353.83 575.37 354.04 C575.61 354.26 575.84 354.51 576.02 354.77 C576.2 355.04 576.35 355.33 576.46 355.63 C576.57 355.92 576.64 356.24 576.68 356.55 C576.71 356.86 576.7 357.18 576.66 357.48 C576.62 357.78 576.53 358.09 576.42 358.37 C576.3 358.64 576.15 358.91 575.97 359.15 C575.8 359.39 575.59 359.61 575.36 359.79 C575.14 359.97 574.88 360.13 574.62 360.25 C574.36 360.37 574.08 360.46 573.81 360.51 C573.53 360.57 573.24 360.58 572.97 360.57 C572.69 360.55 572.41 360.5 572.15 360.41 C571.9 360.33 571.64 360.21 571.42 360.07 C571.19 359.93 570.98 359.76 570.8 359.57 C570.62 359.38 570.46 359.16 570.34 358.94 C570.21 358.72 570.11 358.47 570.05 358.23 C569.98 357.99 569.94 357.73 569.94 357.49 C569.94 357.24 569.96 356.99 570.02 356.76 C570.07 356.52 570.16 356.29 570.27 356.08 C570.38 355.87 570.52 355.67 570.67 355.5 C570.83 355.33 571.01 355.17 571.2 355.05 C571.38 354.92 571.7 354.79 571.8 354.74" stroke-width="1.35"/>
<path d="M540.6 389.48 C540.41 389.33 539.85 388.81 539.43 388.55 C539.01 388.28 538.55 388.06 538.08 387.89 C537.61 387.72 537.11 387.6 536.62 387.54 C536.12 387.47 535.61 387.46 535.12 387.51 C534.62 387.55 534.12 387.66 533.64 387.81 C533.17 387.96 532.7 388.17 532.27 388.42 C531.84 388.67 531.43 388.97 531.06 389.31 C530.7 389.65 530.36 390.04 530.08 390.45 C529.79 390.85 529.55 391.3 529.36 391.77 C529.17 392.23 529.03 392.72 528.94 393.21 C528.86 393.7 528.83 394.21 528.85 394.71 C528.88 395.21 528.96 395.71 529.09 396.19 C529.22 396.67 529.41 397.15 529.64 397.59 C529.87 398.03 530.15 398.46 530.48 398.84 C530.8 399.22 531.17 399.57 531.57 399.87 C531.96 400.17 532.4 400.44 532.85 400.65 C533.31 400.85 533.79 401.02 534.28 401.12 C534.76 401.23 535.27 401.28 535.77 401.28 C536.27 401.28 536.78 401.22 537.26 401.11 C537.75 401 538.45 400.7 538.69 400.62" stroke-width="1.35"/>
<path d="M540.62 393.93 C540.57 393.74 540.46 393.14 540.31 392.77 C540.16 392.41 539.96 392.05 539.73 391.74 C539.49 391.43 539.22 391.14 538.92 390.89 C538.62 390.65 538.28 390.44 537.94 390.27 C537.59 390.11 537.22 389.99 536.85 389.92 C536.48 389.85 536.1 389.83 535.73 389.85 C535.36 389.87 534.98 389.94 534.63 390.05 C534.28 390.16 533.94 390.32 533.64 390.51 C533.33 390.7 533.04 390.93 532.79 391.19 C532.55 391.44 532.33 391.73 532.15 392.04 C531.98 392.34 531.84 392.68 531.75 393.01 C531.65 393.34 531.6 393.69 531.59 394.03 C531.58 394.37 531.62 394.72 531.69 395.05 C531.77 395.38 531.89 395.7 532.04 396 C532.19 396.29 532.38 396.57 532.59 396.82 C532.81 397.06 533.06 397.29 533.32 397.47 C533.59 397.65 533.88 397.8 534.18 397.91 C534.47 398.02 534.79 398.09 535.1 398.13 C535.41 398.16 535.73 398.15 536.03 398.11 C536.33 398.07 536.64 397.98 536.92 397.87 C537.19 397.75 537.46 397.6 537.7 397.42 C537.94 397.25 538.16 397.04 538.34 396.81 C538.52 396.59 538.68 396.33 538.8 396.07 C538.92 395.81 539.01 395.53 539.06 395.26 C539.12 394.98 539.13 394.69 539.12 394.42 C539.1 394.14 539.05 393.86 538.96 393.6 C538.88 393.35 538.76 393.09 538.62 392.87 C538.48 392.64 538.31 392.43 538.12 392.25 C537.93 392.07 537.71 391.91 537.49 391.79 C537.27 391.66 537.02 391.56 536.78 391.5 C536.54 391.43 536.28 391.39 536.04 391.39 C535.79 391.39 535.54 391.41 535.31 391.47 C535.07 391.52 534.84 391.61 534.63 391.72 C534.42 391.83 534.22 391.97 534.05 392.12 C533.88 392.28 533.72 392.46 533.6 392.65 C533.47 392.83 533.34 393.15 533.29 393.25" stroke-width="1.35"/>
<path d="M552.9 389.48 C553.09 389.33 553.65 388.81 554.07 388.55 C554.49 388.28 554.95 388.06 555.42 387.89 C555.89 387.72 556.39 387.6 556.88 387.54 C557.38 387.47 557.89 387.46 558.38 387.51 C558.88 387.55 559.38 387.66 559.86 387.81 C560.33 387.96 560.8 388.17 561.23 388.42 C561.66 388.67 562.07 388.97 562.44 389.31 C562.8 389.65 563.14 390.04 563.42 390.45 C563.71 390.85 563.95 391.3 564.14 391.77 C564.33 392.23 564.47 392.72 564.56 393.21 C564.64 393.7 564.67 394.21 564.65 394.71 C564.62 395.21 564.54 395.71 564.41 396.19 C564.28 396.67 564.09 397.15 563.86 397.59 C563.63 398.03 563.35 398.46 563.02 398.84 C562.7 399.22 562.33 399.57 561.93 399.87 C561.54 400.17 561.1 400.44 560.65 400.65 C560.19 400.85 559.71 401.02 559.22 401.12 C558.74 401.23 558.23 401.28 557.73 401.28 C557.23 401.28 556.72 401.22 556.24 401.11 C555.75 401 555.05 400.7 554.81 400.62" stroke-width="1.35"/>
<path d="M552.88 393.93 C552.93 393.74 553.04 393.14 553.19 392.77 C553.34 392.41 553.54 392.05 553.77 391.74 C554.01 391.43 554.28 391.14 554.58 390.89 C554.88 390.65 555.22 390.44 555.56 390.27 C555.91 390.11 556.28 389.99 556.65 389.92 C557.02 389.85 557.4 389.83 557.77 389.85 C558.14 389.87 558.52 389.94 558.87 390.05 C559.22 390.16 559.56 390.32 559.86 390.51 C560.17 390.7 560.46 390.93 560.71 391.19 C560.95 391.44 561.17 391.73 561.35 392.04 C561.52 392.34 561.66 392.68 561.75 393.01 C561.85 393.34 561.9 393.69 561.91 394.03 C561.92 394.37 561.88 394.72 561.81 395.05 C561.73 395.38 561.61 395.7 561.46 396 C561.31 396.29 561.12 396.57 560.91 396.82 C560.69 397.06 560.44 397.29 560.18 397.47 C559.91 397.65 559.62 397.8 559.32 397.91 C559.03 398.02 558.71 398.09 558.4 398.13 C558.09 398.16 557.77 398.15 557.47 398.11 C557.17 398.07 556.86 397.98 556.58 397.87 C556.31 397.75 556.04 397.6 555.8 397.42 C555.56 397.25 555.34 397.04 555.16 396.81 C554.98 396.59 554.82 396.33 554.7 396.07 C554.58 395.81 554.49 395.53 554.44 395.26 C554.38 394.98 554.37 394.69 554.38 394.42 C554.4 394.14 554.45 393.86 554.54 393.6 C554.62 393.35 554.74 393.09 554.88 392.87 C555.02 392.64 555.19 392.43 555.38 392.25 C555.57 392.07 555.79 391.91 556.01 391.79 C556.23 391.66 556.48 391.56 556.72 391.5 C556.96 391.43 557.22 391.39 557.46 391.39 C557.71 391.39 557.96 391.41 558.19 391.47 C558.43 391.52 558.66 391.61 558.87 391.72 C559.08 391.83 559.28 391.97 559.45 392.12 C559.62 392.28 559.78 392.46 559.9 392.65 C560.03 392.83 560.16 393.15 560.21 393.25" stroke-width="1.35"/>
<path d="M525.47 362.05 C525.62 361.86 526.14 361.3 526.4 360.88 C526.67 360.46 526.89 360 527.06 359.53 C527.23 359.06 527.35 358.56 527.41 358.07 C527.48 357.57 527.49 357.06 527.44 356.57 C527.4 356.07 527.29 355.57 527.14 355.09 C526.99 354.62 526.78 354.15 526.53 353.72 C526.28 353.29 525.98 352.88 525.64 352.51 C525.3 352.15 524.91 351.81 524.5 351.53 C524.1 351.24 523.65 351 523.18 350.81 C522.72 350.62 522.23 350.48 521.74 350.39 C521.25 350.31 520.74 350.28 520.24 350.3 C519.74 350.33 519.24 350.41 518.76 350.54 C518.28 350.67 517.8 350.86 517.36 351.09 C516.92 351.32 516.49 351.6 516.11 351.93 C515.73 352.25 515.38 352.62 515.08 353.02 C514.78 353.41 514.51 353.85 514.3 354.3 C514.1 354.76 513.93 355.24 513.83 355.73 C513.72 356.21 513.67 356.72 513.67 357.22 C513.67 357.72 513.73 358.23 513.84 358.71 C513.95 359.2 514.25 359.9 514.33 360.14" stroke-width="1.35"/>
<path d="M521.02 362.07 C521.21 362.02 521.81 361.91 522.18 361.76 C522.54 361.61 522.9 361.41 523.21 361.18 C523.52 360.94 523.81 360.67 524.06 360.37 C524.3 360.07 524.51 359.73 524.68 359.39 C524.84 359.04 524.96 358.67 525.03 358.3 C525.1 357.93 525.12 357.55 525.1 357.18 C525.08 356.81 525.01 356.43 524.9 356.08 C524.79 355.73 524.63 355.39 524.44 355.09 C524.25 354.78 524.02 354.49 523.76 354.24 C523.51 354 523.22 353.78 522.91 353.6 C522.61 353.43 522.27 353.29 521.94 353.2 C521.61 353.1 521.26 353.05 520.92 353.04 C520.58 353.03 520.23 353.07 519.9 353.14 C519.57 353.22 519.25 353.34 518.95 353.49 C518.66 353.64 518.38 353.83 518.13 354.04 C517.89 354.26 517.66 354.51 517.48 354.77 C517.3 355.04 517.15 355.33 517.04 355.63 C516.93 355.92 516.86 356.24 516.82 356.55 C516.79 356.86 516.8 357.18 516.84 357.48 C516.88 357.78 516.97 358.09 517.08 358.37 C517.2 358.64 517.35 358.91 517.53 359.15 C517.7 359.39 517.91 359.61 518.14 359.79 C518.36 359.97 518.62 360.13 518.88 360.25 C519.14 360.37 519.42 360.46 519.69 360.51 C519.97 360.57 520.26 360.58 520.53 360.57 C520.81 360.55 521.09 360.5 521.35 360.41 C521.6 360.33 521.86 360.21 522.08 360.07 C522.31 359.93 522.52 359.76 522.7 359.57 C522.88 359.38 523.04 359.16 523.16 358.94 C523.29 358.72 523.39 358.47 523.45 358.23 C523.52 357.99 523.56 357.73 523.56 357.49 C523.56 357.24 523.54 356.99 523.48 356.76 C523.43 356.52 523.34 356.29 523.23 356.08 C523.12 355.87 522.98 355.67 522.83 355.5 C522.67 355.33 522.49 355.17 522.3 355.05 C522.12 354.92 521.8 354.79 521.7 354.74" stroke-width="1.35"/>
<path d="M525.47 374.35 C525.62 374.54 526.14 375.1 526.4 375.52 C526.67 375.94 526.89 376.4 527.06 376.87 C527.23 377.34 527.35 377.84 527.41 378.33 C527.48 378.83 527.49 379.34 527.44 379.83 C527.4 380.33 527.29 380.83 527.14 381.31 C526.99 381.78 526.78 382.25 526.53 382.68 C526.28 383.11 525.98 383.52 525.64 383.89 C525.3 384.25 524.91 384.59 524.5 384.87 C524.1 385.16 523.65 385.4 523.18 385.59 C522.72 385.78 522.23 385.92 521.74 386.01 C521.25 386.09 520.74 386.12 520.24 386.1 C519.74 386.07 519.24 385.99 518.76 385.86 C518.28 385.73 517.8 385.54 517.36 385.31 C516.92 385.08 516.49 384.8 516.11 384.47 C515.73 384.15 515.38 383.78 515.08 383.38 C514.78 382.99 514.51 382.55 514.3 382.1 C514.1 381.64 513.93 381.16 513.83 380.67 C513.72 380.19 513.67 379.68 513.67 379.18 C513.67 378.68 513.73 378.17 513.84 377.69 C513.95 377.2 514.25 376.5 514.33 376.26" stroke-width="1.35"/>
<path d="M521.02 374.33 C521.21 374.38 521.81 374.49 522.18 374.64 C522.54 374.79 522.9 374.99 523.21 375.22 C523.52 375.46 523.81 375.73 524.06 376.03 C524.3 376.33 524.51 376.67 524.68 377.01 C524.84 377.36 524.96 377.73 525.03 378.1 C525.1 378.47 525.12 378.85 525.1 379.22 C525.08 379.59 525.01 379.97 524.9 380.32 C524.79 380.67 524.63 381.01 524.44 381.31 C524.25 381.62 524.02 381.91 523.76 382.16 C523.51 382.4 523.22 382.62 522.91 382.8 C522.61 382.97 522.27 383.11 521.94 383.2 C521.61 383.3 521.26 383.35 520.92 383.36 C520.58 383.37 520.23 383.33 519.9 383.26 C519.57 383.18 519.25 383.06 518.95 382.91 C518.66 382.76 518.38 382.57 518.13 382.36 C517.89 382.14 517.66 381.89 517.48 381.63 C517.3 381.36 517.15 381.07 517.04 380.77 C516.93 380.48 516.86 380.16 516.82 379.85 C516.79 379.54 516.8 379.22 516.84 378.92 C516.88 378.62 516.97 378.31 517.08 378.03 C517.2 377.76 517.35 377.49 517.53 377.25 C517.7 377.01 517.91 376.79 518.14 376.61 C518.36 376.43 518.62 376.27 518.88 376.15 C519.14 376.03 519.42 375.94 519.69 375.89 C519.97 375.83 520.26 375.82 520.53 375.83 C520.81 375.85 521.09 375.9 521.35 375.99 C521.6 376.07 521.86 376.19 522.08 376.33 C522.31 376.47 522.52 376.64 522.7 376.83 C522.88 377.02 523.04 377.24 523.16 377.46 C523.29 377.68 523.39 377.93 523.45 378.17 C523.52 378.41 523.56 378.67 523.56 378.91 C523.56 379.16 523.54 379.41 523.48 379.64 C523.43 379.88 523.34 380.11 523.23 380.32 C523.12 380.53 522.98 380.73 522.83 380.9 C522.67 381.07 522.49 381.23 522.3 381.35 C522.12 381.48 521.8 381.61 521.7 381.66" stroke-width="1.35"/>
<circle cx="546.75" cy="336.9" r="2.15" stroke-width="1.4" fill="#fff"/>
<circle cx="549.5" cy="341.1" r="2.15" stroke-width="1.4" fill="#fff"/>
<circle cx="544" cy="341.1" r="2.15" stroke-width="1.4" fill="#fff"/>
<rect x="545.15" y="343.4" width="3.2" height="3.6" rx="0.8" fill="#fff" stroke-width="1.3" transform="rotate(90 546.75 345.2)"/>
<circle cx="546.75" cy="340.7" r="0.7" stroke-width="1.2" fill="#000"/>
<line x1="546.75" y1="346.9" x2="546.75" y2="349.5" stroke-width="2"/>
<circle cx="578.05" cy="368.2" r="2.15" stroke-width="1.4" fill="#fff"/>
<circle cx="573.85" cy="370.95" r="2.15" stroke-width="1.4" fill="#fff"/>
<circle cx="573.85" cy="365.45" r="2.15" stroke-width="1.4" fill="#fff"/>
<rect x="568.15" y="366.4" width="3.2" height="3.6" rx="0.8" fill="#fff" stroke-width="1.3" transform="rotate(180 569.75 368.2)"/>
<circle cx="574.25" cy="368.2" r="0.7" stroke-width="1.2" fill="#000"/>
<line x1="568.05" y1="368.2" x2="565.45" y2="368.2" stroke-width="2"/>
<circle cx="546.75" cy="399.5" r="2.15" stroke-width="1.4" fill="#fff"/>
<circle cx="544" cy="395.3" r="2.15" stroke-width="1.4" fill="#fff"/>
<circle cx="549.5" cy="395.3" r="2.15" stroke-width="1.4" fill="#fff"/>
<rect x="545.15" y="389.4" width="3.2" height="3.6" rx="0.8" fill="#fff" stroke-width="1.3" transform="rotate(270 546.75 391.2)"/>
<circle cx="546.75" cy="395.7" r="0.7" stroke-width="1.2" fill="#000"/>
<line x1="546.75" y1="389.5" x2="546.75" y2="386.9" stroke-width="2"/>
<circle cx="515.45" cy="368.2" r="2.15" stroke-width="1.4" fill="#fff"/>
<circle cx="519.65" cy="365.45" r="2.15" stroke-width="1.4" fill="#fff"/>
<circle cx="519.65" cy="370.95" r="2.15" stroke-width="1.4" fill="#fff"/>
<rect x="522.15" y="366.4" width="3.2" height="3.6" rx="0.8" fill="#fff" stroke-width="1.3" transform="rotate(360 523.75 368.2)"/>
<circle cx="519.25" cy="368.2" r="0.7" stroke-width="1.2" fill="#000"/>
<line x1="525.45" y1="368.2" x2="528.05" y2="368.2" stroke-width="2"/>
<circle cx="412.8" cy="368.1" r="26.7" stroke-width="2.9"/>
<circle cx="412.8" cy="368.1" r="23.8" stroke-width="1"/>
<circle cx="412.8" cy="368.1" r="14.9" stroke-width="1.2"/>
<circle cx="405.22" cy="350.24" r="3.6" stroke-width="0.9"/>
<circle cx="405.22" cy="350.24" r="1.5" stroke-width="1"/>
<circle cx="420.38" cy="350.24" r="3.6" stroke-width="0.9"/>
<circle cx="420.38" cy="350.24" r="1.5" stroke-width="1"/>
<circle cx="412.8" cy="347.6" r="2.9" stroke-width="1" fill="#fff"/>
<circle cx="412.8" cy="346.6" r="1" stroke-width="0.9"/>
<circle cx="414.2" cy="349.1" r="1" stroke-width="0.9"/>
<circle cx="411.4" cy="349.1" r="1" stroke-width="0.9"/>
<rect x="410.5" y="340.7" width="4.6" height="3.2" fill="#fff" stroke="#000" stroke-width="0.7"/>
<circle cx="430.66" cy="360.52" r="3.6" stroke-width="0.9"/>
<circle cx="430.66" cy="360.52" r="1.5" stroke-width="1"/>
<circle cx="430.66" cy="375.68" r="3.6" stroke-width="0.9"/>
<circle cx="430.66" cy="375.68" r="1.5" stroke-width="1"/>
<circle cx="433.3" cy="368.1" r="2.9" stroke-width="1" fill="#fff"/>
<circle cx="434.3" cy="368.1" r="1" stroke-width="0.9"/>
<circle cx="431.8" cy="369.5" r="1" stroke-width="0.9"/>
<circle cx="431.8" cy="366.7" r="1" stroke-width="0.9"/>
<rect x="437" y="365.8" width="3.2" height="4.6" fill="#fff" stroke="#000" stroke-width="0.7"/>
<circle cx="420.38" cy="385.96" r="3.6" stroke-width="0.9"/>
<circle cx="420.38" cy="385.96" r="1.5" stroke-width="1"/>
<circle cx="405.22" cy="385.96" r="3.6" stroke-width="0.9"/>
<circle cx="405.22" cy="385.96" r="1.5" stroke-width="1"/>
<circle cx="412.8" cy="388.6" r="2.9" stroke-width="1" fill="#fff"/>
<circle cx="412.8" cy="389.6" r="1" stroke-width="0.9"/>
<circle cx="411.4" cy="387.1" r="1" stroke-width="0.9"/>
<circle cx="414.2" cy="387.1" r="1" stroke-width="0.9"/>
<rect x="410.5" y="392.3" width="4.6" height="3.2" fill="#fff" stroke="#000" stroke-width="0.7"/>
<circle cx="394.94" cy="375.68" r="3.6" stroke-width="0.9"/>
<circle cx="394.94" cy="375.68" r="1.5" stroke-width="1"/>
<circle cx="394.94" cy="360.52" r="3.6" stroke-width="0.9"/>
<circle cx="394.94" cy="360.52" r="1.5" stroke-width="1"/>
<circle cx="392.3" cy="368.1" r="2.9" stroke-width="1" fill="#fff"/>
<circle cx="391.3" cy="368.1" r="1" stroke-width="0.9"/>
<circle cx="393.8" cy="366.7" r="1" stroke-width="0.9"/>
<circle cx="393.8" cy="369.5" r="1" stroke-width="0.9"/>
<rect x="385.4" y="365.8" width="3.2" height="4.6" fill="#fff" stroke="#000" stroke-width="0.7"/>
<line x1="397.8" y1="368.3" x2="427.8" y2="368.3" stroke-width="1.4" stroke-dasharray="6.5 0.8 1.7 0.8"/>
<line x1="412.6" y1="353.1" x2="412.6" y2="383.1" stroke-width="1.4" stroke-dasharray="6.5 0.8 1.7 0.8"/>
</g>
</svg>
</body></html>
